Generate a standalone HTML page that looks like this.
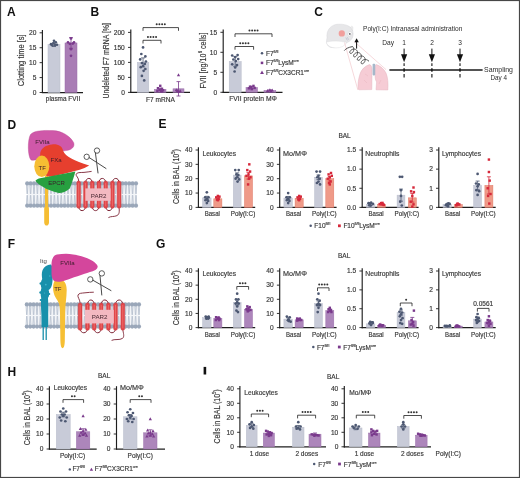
<!DOCTYPE html>
<html><head><meta charset="utf-8"><style>
html,body{margin:0;padding:0;background:#fff;width:520px;height:478px;overflow:hidden}
svg{display:block;will-change:transform}
text{font-family:"Liberation Sans",sans-serif}
</style></head><body>
<svg width="520" height="478" viewBox="0 0 520 478" font-family="Liberation Sans, sans-serif">
<rect x="0" y="0" width="520" height="478" fill="#fff"/>
<text x="7.00" y="15.70" font-size="12.0" text-anchor="start" font-weight="bold" fill="#111" stroke="#111" stroke-width="0" >A</text>
<line x1="42.40" y1="30.00" x2="42.40" y2="93.10" stroke="#1e1e1e" stroke-width="1.15"/>
<line x1="41.85" y1="92.50" x2="83.00" y2="92.50" stroke="#1e1e1e" stroke-width="1.25"/>
<line x1="39.60" y1="92.50" x2="42.40" y2="92.50" stroke="#1e1e1e" stroke-width="0.9"/>
<text x="36.40" y="94.80" font-size="6.6" text-anchor="end" font-weight="normal" fill="#383838" stroke="#383838" stroke-width="0.16" >0</text>
<line x1="39.60" y1="77.58" x2="42.40" y2="77.58" stroke="#1e1e1e" stroke-width="0.9"/>
<text x="36.40" y="79.88" font-size="6.6" text-anchor="end" font-weight="normal" fill="#383838" stroke="#383838" stroke-width="0.16" >5</text>
<line x1="39.60" y1="62.65" x2="42.40" y2="62.65" stroke="#1e1e1e" stroke-width="0.9"/>
<text x="36.40" y="64.95" font-size="6.6" text-anchor="end" font-weight="normal" fill="#383838" stroke="#383838" stroke-width="0.16" >10</text>
<line x1="39.60" y1="47.72" x2="42.40" y2="47.72" stroke="#1e1e1e" stroke-width="0.9"/>
<text x="36.40" y="50.02" font-size="6.6" text-anchor="end" font-weight="normal" fill="#383838" stroke="#383838" stroke-width="0.16" >15</text>
<line x1="39.60" y1="32.80" x2="42.40" y2="32.80" stroke="#1e1e1e" stroke-width="0.9"/>
<text x="36.40" y="35.10" font-size="6.6" text-anchor="end" font-weight="normal" fill="#383838" stroke="#383838" stroke-width="0.16" >20</text>
<rect x="48.00" y="44.74" width="12.00" height="47.76" fill="#c8cbd8" stroke="#b8bccb" stroke-width="0.5"/>
<line x1="54.00" y1="42.95" x2="54.00" y2="46.53" stroke="#4d5872" stroke-width="0.8"/>
<line x1="52.00" y1="42.95" x2="56.00" y2="42.95" stroke="#4d5872" stroke-width="0.8"/>
<line x1="52.00" y1="46.53" x2="56.00" y2="46.53" stroke="#4d5872" stroke-width="0.8"/>
<circle cx="51.00" cy="44.14" r="1.35" fill="#4d5872"/>
<circle cx="53.40" cy="43.25" r="1.35" fill="#4d5872"/>
<circle cx="55.80" cy="42.35" r="1.35" fill="#4d5872"/>
<circle cx="54.00" cy="40.86" r="1.35" fill="#4d5872"/>
<circle cx="57.00" cy="44.74" r="1.35" fill="#4d5872"/>
<circle cx="52.20" cy="45.34" r="1.35" fill="#4d5872"/>
<circle cx="55.20" cy="45.04" r="1.35" fill="#4d5872"/>
<rect x="65.00" y="42.95" width="12.00" height="49.55" fill="#a97db5" stroke="#9a6eaa" stroke-width="0.5"/>
<line x1="71.00" y1="37.58" x2="71.00" y2="48.32" stroke="#7a3a8c" stroke-width="0.8"/>
<line x1="69.00" y1="37.58" x2="73.00" y2="37.58" stroke="#7a3a8c" stroke-width="0.8"/>
<line x1="69.00" y1="48.32" x2="73.00" y2="48.32" stroke="#7a3a8c" stroke-width="0.8"/>
<circle cx="68.00" cy="42.35" r="1.35" fill="#7a3a8c"/>
<circle cx="71.00" cy="38.47" r="1.35" fill="#7a3a8c"/>
<circle cx="74.00" cy="42.35" r="1.35" fill="#7a3a8c"/>
<circle cx="69.80" cy="43.84" r="1.35" fill="#7a3a8c"/>
<circle cx="72.80" cy="43.55" r="1.35" fill="#7a3a8c"/>
<circle cx="71.00" cy="49.22" r="1.35" fill="#7a3a8c"/>
<circle cx="71.00" cy="55.78" r="1.35" fill="#7a3a8c"/>
<text x="45.80" y="101.20" font-size="6.5" text-anchor="start" font-weight="normal" fill="#383838" stroke="#383838" stroke-width="0.16"  textLength="34.4" lengthAdjust="spacingAndGlyphs">plasma FVII</text>
<text transform="translate(24.00,60.30) rotate(-90)" font-size="8.2" text-anchor="middle" fill="#383838" stroke="#383838" stroke-width="0.16" textLength="51.8" lengthAdjust="spacingAndGlyphs">Clotting time [s]</text>
<text x="90.60" y="16.00" font-size="12.0" text-anchor="start" font-weight="bold" fill="#111" stroke="#111" stroke-width="0" >B</text>
<line x1="130.80" y1="29.60" x2="130.80" y2="93.00" stroke="#1e1e1e" stroke-width="1.15"/>
<line x1="130.25" y1="92.40" x2="190.00" y2="92.40" stroke="#1e1e1e" stroke-width="1.25"/>
<line x1="128.00" y1="92.40" x2="130.80" y2="92.40" stroke="#1e1e1e" stroke-width="0.9"/>
<text x="124.80" y="94.70" font-size="6.6" text-anchor="end" font-weight="normal" fill="#383838" stroke="#383838" stroke-width="0.16" >0</text>
<line x1="128.00" y1="77.40" x2="130.80" y2="77.40" stroke="#1e1e1e" stroke-width="0.9"/>
<text x="124.80" y="79.70" font-size="6.6" text-anchor="end" font-weight="normal" fill="#383838" stroke="#383838" stroke-width="0.16" >50</text>
<line x1="128.00" y1="62.40" x2="130.80" y2="62.40" stroke="#1e1e1e" stroke-width="0.9"/>
<text x="124.80" y="64.70" font-size="6.6" text-anchor="end" font-weight="normal" fill="#383838" stroke="#383838" stroke-width="0.16" >100</text>
<line x1="128.00" y1="47.40" x2="130.80" y2="47.40" stroke="#1e1e1e" stroke-width="0.9"/>
<text x="124.80" y="49.70" font-size="6.6" text-anchor="end" font-weight="normal" fill="#383838" stroke="#383838" stroke-width="0.16" >150</text>
<line x1="128.00" y1="32.40" x2="130.80" y2="32.40" stroke="#1e1e1e" stroke-width="0.9"/>
<text x="124.80" y="34.70" font-size="6.6" text-anchor="end" font-weight="normal" fill="#383838" stroke="#383838" stroke-width="0.16" >200</text>
<rect x="137.30" y="62.40" width="11.50" height="30.00" fill="#c8cbd8" stroke="#b8bccb" stroke-width="0.5"/>
<line x1="143.05" y1="57.90" x2="143.05" y2="66.90" stroke="#4d5872" stroke-width="0.8"/>
<line x1="141.05" y1="57.90" x2="145.05" y2="57.90" stroke="#4d5872" stroke-width="0.8"/>
<line x1="141.05" y1="66.90" x2="145.05" y2="66.90" stroke="#4d5872" stroke-width="0.8"/>
<circle cx="143.05" cy="47.40" r="1.35" fill="#4d5872"/>
<circle cx="141.33" cy="54.00" r="1.35" fill="#4d5872"/>
<circle cx="145.35" cy="56.40" r="1.35" fill="#4d5872"/>
<circle cx="140.18" cy="59.40" r="1.35" fill="#4d5872"/>
<circle cx="145.93" cy="61.50" r="1.35" fill="#4d5872"/>
<circle cx="141.90" cy="63.00" r="1.35" fill="#4d5872"/>
<circle cx="144.78" cy="63.90" r="1.35" fill="#4d5872"/>
<circle cx="143.05" cy="66.00" r="1.35" fill="#4d5872"/>
<circle cx="140.75" cy="67.20" r="1.35" fill="#4d5872"/>
<circle cx="145.35" cy="69.00" r="1.35" fill="#4d5872"/>
<circle cx="143.62" cy="70.80" r="1.35" fill="#4d5872"/>
<circle cx="141.90" cy="75.90" r="1.35" fill="#4d5872"/>
<circle cx="144.20" cy="80.40" r="1.35" fill="#4d5872"/>
<rect x="154.50" y="89.40" width="11.50" height="3.00" fill="#ad86bb" stroke="#9a6eaa" stroke-width="0.5"/>
<line x1="160.25" y1="88.20" x2="160.25" y2="90.60" stroke="#7a3a8c" stroke-width="0.8"/>
<line x1="158.25" y1="88.20" x2="162.25" y2="88.20" stroke="#7a3a8c" stroke-width="0.8"/>
<line x1="158.25" y1="90.60" x2="162.25" y2="90.60" stroke="#7a3a8c" stroke-width="0.8"/>
<rect x="159.03" y="84.59" width="2.43" height="2.43" fill="#7a3a8c"/>
<rect x="156.73" y="86.98" width="2.43" height="2.43" fill="#7a3a8c"/>
<rect x="160.76" y="87.59" width="2.43" height="2.43" fill="#7a3a8c"/>
<rect x="158.46" y="88.48" width="2.43" height="2.43" fill="#7a3a8c"/>
<rect x="161.91" y="89.09" width="2.43" height="2.43" fill="#7a3a8c"/>
<rect x="156.16" y="89.69" width="2.43" height="2.43" fill="#7a3a8c"/>
<rect x="159.61" y="89.98" width="2.43" height="2.43" fill="#7a3a8c"/>
<rect x="160.76" y="90.28" width="2.43" height="2.43" fill="#7a3a8c"/>
<rect x="173.00" y="88.80" width="11.00" height="3.60" fill="#ad86bb" stroke="#9a6eaa" stroke-width="0.5"/>
<line x1="178.50" y1="81.60" x2="178.50" y2="96.00" stroke="#7a3a8c" stroke-width="0.8"/>
<line x1="176.50" y1="81.60" x2="180.50" y2="81.60" stroke="#7a3a8c" stroke-width="0.8"/>
<line x1="176.50" y1="96.00" x2="180.50" y2="96.00" stroke="#7a3a8c" stroke-width="0.8"/>
<path d="M178.50 73.30 L180.14 76.28 L176.86 76.28Z" fill="#7a3a8c"/>
<path d="M176.30 88.30 L177.94 91.28 L174.66 91.28Z" fill="#7a3a8c"/>
<path d="M180.15 89.20 L181.79 92.18 L178.51 92.18Z" fill="#7a3a8c"/>
<path d="M178.50 89.80 L180.14 92.78 L176.86 92.78Z" fill="#7a3a8c"/>
<path d="M177.40 88.90 L179.04 91.88 L175.76 91.88Z" fill="#7a3a8c"/>
<path d="M143.00 43.50 V40.30 H161.00 V43.50" fill="none" stroke="#1e1e1e" stroke-width="0.8"/>
<circle cx="147.95" cy="37.00" r="1.0" fill="#333"/>
<circle cx="150.65" cy="37.00" r="1.0" fill="#333"/>
<circle cx="153.35" cy="37.00" r="1.0" fill="#333"/>
<circle cx="156.05" cy="37.00" r="1.0" fill="#333"/>
<path d="M143.00 30.80 V27.60 H178.50 V30.80" fill="none" stroke="#1e1e1e" stroke-width="0.8"/>
<circle cx="156.70" cy="24.30" r="1.0" fill="#333"/>
<circle cx="159.40" cy="24.30" r="1.0" fill="#333"/>
<circle cx="162.10" cy="24.30" r="1.0" fill="#333"/>
<circle cx="164.80" cy="24.30" r="1.0" fill="#333"/>
<text x="146.00" y="101.50" font-size="6.5" text-anchor="start" font-weight="normal" fill="#383838" stroke="#383838" stroke-width="0.16"  textLength="28.8" lengthAdjust="spacingAndGlyphs">F7 mRNA</text>
<text transform="translate(109.20,60.80) rotate(-90)" font-size="8.2" text-anchor="middle" fill="#383838" stroke="#383838" stroke-width="0.16" textLength="75.5" lengthAdjust="spacingAndGlyphs">Undeleted F7 mRNA [%]</text>
<line x1="223.20" y1="29.50" x2="223.20" y2="92.90" stroke="#1e1e1e" stroke-width="1.15"/>
<line x1="222.65" y1="92.30" x2="282.50" y2="92.30" stroke="#1e1e1e" stroke-width="1.25"/>
<line x1="220.40" y1="92.30" x2="223.20" y2="92.30" stroke="#1e1e1e" stroke-width="0.9"/>
<text x="217.20" y="94.60" font-size="6.6" text-anchor="end" font-weight="normal" fill="#383838" stroke="#383838" stroke-width="0.16" >0</text>
<line x1="220.40" y1="72.30" x2="223.20" y2="72.30" stroke="#1e1e1e" stroke-width="0.9"/>
<text x="217.20" y="74.60" font-size="6.6" text-anchor="end" font-weight="normal" fill="#383838" stroke="#383838" stroke-width="0.16" >5</text>
<line x1="220.40" y1="52.30" x2="223.20" y2="52.30" stroke="#1e1e1e" stroke-width="0.9"/>
<text x="217.20" y="54.60" font-size="6.6" text-anchor="end" font-weight="normal" fill="#383838" stroke="#383838" stroke-width="0.16" >10</text>
<line x1="220.40" y1="32.30" x2="223.20" y2="32.30" stroke="#1e1e1e" stroke-width="0.9"/>
<text x="217.20" y="34.60" font-size="6.6" text-anchor="end" font-weight="normal" fill="#383838" stroke="#383838" stroke-width="0.16" >15</text>
<rect x="229.20" y="61.50" width="12.00" height="30.80" fill="#c8cbd8" stroke="#b8bccb" stroke-width="0.5"/>
<line x1="235.20" y1="56.70" x2="235.20" y2="66.30" stroke="#4d5872" stroke-width="0.8"/>
<line x1="233.20" y1="56.70" x2="237.20" y2="56.70" stroke="#4d5872" stroke-width="0.8"/>
<line x1="233.20" y1="66.30" x2="237.20" y2="66.30" stroke="#4d5872" stroke-width="0.8"/>
<circle cx="232.20" cy="55.50" r="1.35" fill="#4d5872"/>
<circle cx="237.60" cy="55.10" r="1.35" fill="#4d5872"/>
<circle cx="235.20" cy="57.10" r="1.35" fill="#4d5872"/>
<circle cx="233.40" cy="59.50" r="1.35" fill="#4d5872"/>
<circle cx="238.20" cy="59.10" r="1.35" fill="#4d5872"/>
<circle cx="235.80" cy="61.10" r="1.35" fill="#4d5872"/>
<circle cx="232.20" cy="64.30" r="1.35" fill="#4d5872"/>
<circle cx="237.00" cy="65.10" r="1.35" fill="#4d5872"/>
<circle cx="235.20" cy="67.50" r="1.35" fill="#4d5872"/>
<circle cx="234.60" cy="71.50" r="1.35" fill="#4d5872"/>
<rect x="246.00" y="87.50" width="11.50" height="4.80" fill="#ad86bb" stroke="#9a6eaa" stroke-width="0.5"/>
<line x1="251.75" y1="86.30" x2="251.75" y2="88.70" stroke="#7a3a8c" stroke-width="0.8"/>
<line x1="249.75" y1="86.30" x2="253.75" y2="86.30" stroke="#7a3a8c" stroke-width="0.8"/>
<line x1="249.75" y1="88.70" x2="253.75" y2="88.70" stroke="#7a3a8c" stroke-width="0.8"/>
<rect x="247.66" y="87.08" width="2.43" height="2.43" fill="#7a3a8c"/>
<rect x="249.96" y="85.88" width="2.43" height="2.43" fill="#7a3a8c"/>
<rect x="252.26" y="84.68" width="2.43" height="2.43" fill="#7a3a8c"/>
<rect x="253.41" y="86.68" width="2.43" height="2.43" fill="#7a3a8c"/>
<rect x="250.53" y="87.88" width="2.43" height="2.43" fill="#7a3a8c"/>
<rect x="248.81" y="85.48" width="2.43" height="2.43" fill="#7a3a8c"/>
<rect x="264.00" y="90.50" width="11.80" height="1.80" fill="#ad86bb" stroke="#9a6eaa" stroke-width="0.5"/>
<line x1="269.90" y1="89.90" x2="269.90" y2="91.10" stroke="#7a3a8c" stroke-width="0.8"/>
<line x1="267.90" y1="89.90" x2="271.90" y2="89.90" stroke="#7a3a8c" stroke-width="0.8"/>
<line x1="267.90" y1="91.10" x2="271.90" y2="91.10" stroke="#7a3a8c" stroke-width="0.8"/>
<path d="M267.54 89.00 L269.18 91.98 L265.90 91.98Z" fill="#7a3a8c"/>
<path d="M269.90 88.20 L271.54 91.18 L268.26 91.18Z" fill="#7a3a8c"/>
<path d="M272.26 88.60 L273.90 91.58 L270.62 91.58Z" fill="#7a3a8c"/>
<path d="M271.08 89.40 L272.72 92.38 L269.44 92.38Z" fill="#7a3a8c"/>
<path d="M235.00 49.70 V46.50 H253.60 V49.70" fill="none" stroke="#1e1e1e" stroke-width="0.8"/>
<circle cx="240.25" cy="43.20" r="1.0" fill="#333"/>
<circle cx="242.95" cy="43.20" r="1.0" fill="#333"/>
<circle cx="245.65" cy="43.20" r="1.0" fill="#333"/>
<circle cx="248.35" cy="43.20" r="1.0" fill="#333"/>
<path d="M235.00 37.00 V33.80 H272.00 V37.00" fill="none" stroke="#1e1e1e" stroke-width="0.8"/>
<circle cx="249.45" cy="30.50" r="1.0" fill="#333"/>
<circle cx="252.15" cy="30.50" r="1.0" fill="#333"/>
<circle cx="254.85" cy="30.50" r="1.0" fill="#333"/>
<circle cx="257.55" cy="30.50" r="1.0" fill="#333"/>
<text x="229.20" y="101.10" font-size="6.5" text-anchor="start" font-weight="normal" fill="#383838" stroke="#383838" stroke-width="0.16"  textLength="47.7" lengthAdjust="spacingAndGlyphs">FVII protein MΦ</text>
<text transform="translate(205.80,60.60) rotate(-90)" font-size="8.2" text-anchor="middle" fill="#383838" stroke="#383838" stroke-width="0.16" textLength="56" lengthAdjust="spacingAndGlyphs">FVII [ng/10<tspan baseline-shift="3.6" font-size="4.8">6</tspan> cells]</text>
<circle cx="262.00" cy="53.30" r="1.25" fill="#4d5872"/>
<text x="266.00" y="55.60" font-size="6.5" text-anchor="start" font-weight="normal" fill="#383838" stroke="#383838" stroke-width="0.16" >F7<tspan baseline-shift="3.0" font-size="3.7">fl/fl</tspan></text>
<rect x="260.74" y="61.64" width="2.52" height="2.52" fill="#7a3a8c"/>
<text x="266.00" y="65.10" font-size="6.5" text-anchor="start" font-weight="normal" fill="#383838" stroke="#383838" stroke-width="0.16" >F7<tspan baseline-shift="3.0" font-size="3.7">fl/fl</tspan>LysM<tspan baseline-shift="3.0" font-size="3.7">cre</tspan></text>
<path d="M262.00 70.58 L263.95 74.11 L260.05 74.11Z" fill="#7a3a8c"/>
<text x="266.00" y="74.60" font-size="6.5" text-anchor="start" font-weight="normal" fill="#383838" stroke="#383838" stroke-width="0.16" >F7<tspan baseline-shift="3.0" font-size="3.7">fl/fl</tspan>CX3CR1<tspan baseline-shift="3.0" font-size="3.7">cre</tspan></text>
<text x="314.20" y="16.20" font-size="12.0" text-anchor="start" font-weight="bold" fill="#111" stroke="#111" stroke-width="0" >C</text>
<text x="158.40" y="128.00" font-size="12.0" text-anchor="start" font-weight="bold" fill="#111" stroke="#111" stroke-width="0" >E</text>
<text x="338.40" y="138.30" font-size="6.5" text-anchor="start" font-weight="normal" fill="#383838" stroke="#383838" stroke-width="0.16" >BAL</text>
<text transform="translate(179.40,176.60) rotate(-90)" font-size="8.2" text-anchor="middle" fill="#383838" stroke="#383838" stroke-width="0.16" textLength="55" lengthAdjust="spacingAndGlyphs">Cells in BAL (10<tspan baseline-shift="3.6" font-size="4.8">5</tspan>)</text>
<line x1="198.40" y1="147.20" x2="198.40" y2="208.00" stroke="#1e1e1e" stroke-width="1.15"/>
<line x1="197.85" y1="207.40" x2="255.20" y2="207.40" stroke="#1e1e1e" stroke-width="1.25"/>
<line x1="195.60" y1="207.40" x2="198.40" y2="207.40" stroke="#1e1e1e" stroke-width="0.9"/>
<text x="192.40" y="209.70" font-size="6.6" text-anchor="end" font-weight="normal" fill="#383838" stroke="#383838" stroke-width="0.16" >0</text>
<line x1="195.60" y1="193.05" x2="198.40" y2="193.05" stroke="#1e1e1e" stroke-width="0.9"/>
<text x="192.40" y="195.35" font-size="6.6" text-anchor="end" font-weight="normal" fill="#383838" stroke="#383838" stroke-width="0.16" >10</text>
<line x1="195.60" y1="178.70" x2="198.40" y2="178.70" stroke="#1e1e1e" stroke-width="0.9"/>
<text x="192.40" y="181.00" font-size="6.6" text-anchor="end" font-weight="normal" fill="#383838" stroke="#383838" stroke-width="0.16" >20</text>
<line x1="195.60" y1="164.35" x2="198.40" y2="164.35" stroke="#1e1e1e" stroke-width="0.9"/>
<text x="192.40" y="166.65" font-size="6.6" text-anchor="end" font-weight="normal" fill="#383838" stroke="#383838" stroke-width="0.16" >30</text>
<line x1="195.60" y1="150.00" x2="198.40" y2="150.00" stroke="#1e1e1e" stroke-width="0.9"/>
<text x="192.40" y="152.30" font-size="6.6" text-anchor="end" font-weight="normal" fill="#383838" stroke="#383838" stroke-width="0.16" >40</text>
<rect x="202.60" y="197.93" width="8.50" height="9.47" fill="#c8cbd8" stroke="#b8bccb" stroke-width="0.5"/>
<line x1="206.85" y1="196.31" x2="206.85" y2="199.54" stroke="#4d5872" stroke-width="0.8"/>
<line x1="204.85" y1="196.31" x2="208.85" y2="196.31" stroke="#4d5872" stroke-width="0.8"/>
<line x1="204.85" y1="199.54" x2="208.85" y2="199.54" stroke="#4d5872" stroke-width="0.8"/>
<circle cx="206.85" cy="192.33" r="1.35" fill="#4d5872"/>
<circle cx="205.15" cy="197.36" r="1.35" fill="#4d5872"/>
<circle cx="208.55" cy="197.36" r="1.35" fill="#4d5872"/>
<circle cx="206.85" cy="198.79" r="1.35" fill="#4d5872"/>
<circle cx="205.57" cy="200.22" r="1.35" fill="#4d5872"/>
<circle cx="208.12" cy="200.94" r="1.35" fill="#4d5872"/>
<circle cx="206.85" cy="203.09" r="1.35" fill="#4d5872"/>
<rect x="213.80" y="198.79" width="8.10" height="8.61" fill="#ef9a88" stroke="#e07866" stroke-width="0.5"/>
<line x1="217.85" y1="197.63" x2="217.85" y2="199.95" stroke="#d6283a" stroke-width="0.8"/>
<line x1="215.85" y1="197.63" x2="219.85" y2="197.63" stroke="#d6283a" stroke-width="0.8"/>
<line x1="215.85" y1="199.95" x2="219.85" y2="199.95" stroke="#d6283a" stroke-width="0.8"/>
<rect x="216.63" y="194.71" width="2.43" height="2.43" fill="#d6283a"/>
<rect x="215.01" y="196.14" width="2.43" height="2.43" fill="#d6283a"/>
<rect x="218.25" y="195.42" width="2.43" height="2.43" fill="#d6283a"/>
<rect x="217.44" y="197.58" width="2.43" height="2.43" fill="#d6283a"/>
<rect x="215.82" y="198.29" width="2.43" height="2.43" fill="#d6283a"/>
<rect x="216.63" y="199.01" width="2.43" height="2.43" fill="#d6283a"/>
<rect x="233.30" y="175.11" width="7.80" height="32.29" fill="#c8cbd8" stroke="#b8bccb" stroke-width="0.5"/>
<line x1="237.20" y1="172.85" x2="237.20" y2="177.37" stroke="#4d5872" stroke-width="0.8"/>
<line x1="235.20" y1="172.85" x2="239.20" y2="172.85" stroke="#4d5872" stroke-width="0.8"/>
<line x1="235.20" y1="177.37" x2="239.20" y2="177.37" stroke="#4d5872" stroke-width="0.8"/>
<circle cx="235.25" cy="170.09" r="1.35" fill="#4d5872"/>
<circle cx="238.76" cy="170.09" r="1.35" fill="#4d5872"/>
<circle cx="236.42" cy="174.40" r="1.35" fill="#4d5872"/>
<circle cx="238.37" cy="175.11" r="1.35" fill="#4d5872"/>
<circle cx="237.20" cy="177.27" r="1.35" fill="#4d5872"/>
<circle cx="235.64" cy="178.70" r="1.35" fill="#4d5872"/>
<circle cx="239.15" cy="179.42" r="1.35" fill="#4d5872"/>
<circle cx="237.59" cy="181.57" r="1.35" fill="#4d5872"/>
<rect x="244.50" y="175.83" width="8.00" height="31.57" fill="#ef9a88" stroke="#e07866" stroke-width="0.5"/>
<line x1="248.50" y1="172.60" x2="248.50" y2="179.06" stroke="#d6283a" stroke-width="0.8"/>
<line x1="246.50" y1="172.60" x2="250.50" y2="172.60" stroke="#d6283a" stroke-width="0.8"/>
<line x1="246.50" y1="179.06" x2="250.50" y2="179.06" stroke="#d6283a" stroke-width="0.8"/>
<rect x="246.09" y="168.88" width="2.43" height="2.43" fill="#d6283a"/>
<rect x="248.09" y="163.13" width="2.43" height="2.43" fill="#d6283a"/>
<rect x="248.88" y="170.31" width="2.43" height="2.43" fill="#d6283a"/>
<rect x="247.28" y="173.18" width="2.43" height="2.43" fill="#d6283a"/>
<rect x="245.28" y="174.62" width="2.43" height="2.43" fill="#d6283a"/>
<rect x="249.28" y="176.05" width="2.43" height="2.43" fill="#d6283a"/>
<rect x="247.69" y="177.48" width="2.43" height="2.43" fill="#d6283a"/>
<rect x="246.88" y="183.22" width="2.43" height="2.43" fill="#d6283a"/>
<text x="202.50" y="155.60" font-size="6.5" text-anchor="start" font-weight="normal" fill="#383838" stroke="#383838" stroke-width="0.16"  textLength="33.5" lengthAdjust="spacingAndGlyphs">Leukocytes</text>
<text x="204.70" y="216.30" font-size="6.5" text-anchor="start" font-weight="normal" fill="#383838" stroke="#383838" stroke-width="0.16"  textLength="15.2" lengthAdjust="spacingAndGlyphs">Basal</text>
<text x="230.70" y="216.30" font-size="6.5" text-anchor="start" font-weight="normal" fill="#383838" stroke="#383838" stroke-width="0.16"  textLength="24.6" lengthAdjust="spacingAndGlyphs">Poly(I:C)</text>
<line x1="279.70" y1="147.20" x2="279.70" y2="208.00" stroke="#1e1e1e" stroke-width="1.15"/>
<line x1="279.15" y1="207.40" x2="336.60" y2="207.40" stroke="#1e1e1e" stroke-width="1.25"/>
<line x1="276.90" y1="207.40" x2="279.70" y2="207.40" stroke="#1e1e1e" stroke-width="0.9"/>
<text x="273.70" y="209.70" font-size="6.6" text-anchor="end" font-weight="normal" fill="#383838" stroke="#383838" stroke-width="0.16" >0</text>
<line x1="276.90" y1="193.05" x2="279.70" y2="193.05" stroke="#1e1e1e" stroke-width="0.9"/>
<text x="273.70" y="195.35" font-size="6.6" text-anchor="end" font-weight="normal" fill="#383838" stroke="#383838" stroke-width="0.16" >10</text>
<line x1="276.90" y1="178.70" x2="279.70" y2="178.70" stroke="#1e1e1e" stroke-width="0.9"/>
<text x="273.70" y="181.00" font-size="6.6" text-anchor="end" font-weight="normal" fill="#383838" stroke="#383838" stroke-width="0.16" >20</text>
<line x1="276.90" y1="164.35" x2="279.70" y2="164.35" stroke="#1e1e1e" stroke-width="0.9"/>
<text x="273.70" y="166.65" font-size="6.6" text-anchor="end" font-weight="normal" fill="#383838" stroke="#383838" stroke-width="0.16" >30</text>
<line x1="276.90" y1="150.00" x2="279.70" y2="150.00" stroke="#1e1e1e" stroke-width="0.9"/>
<text x="273.70" y="152.30" font-size="6.6" text-anchor="end" font-weight="normal" fill="#383838" stroke="#383838" stroke-width="0.16" >40</text>
<rect x="283.90" y="198.07" width="8.50" height="9.33" fill="#c8cbd8" stroke="#b8bccb" stroke-width="0.5"/>
<line x1="288.15" y1="196.46" x2="288.15" y2="199.69" stroke="#4d5872" stroke-width="0.8"/>
<line x1="286.15" y1="196.46" x2="290.15" y2="196.46" stroke="#4d5872" stroke-width="0.8"/>
<line x1="286.15" y1="199.69" x2="290.15" y2="199.69" stroke="#4d5872" stroke-width="0.8"/>
<circle cx="288.15" cy="193.05" r="1.35" fill="#4d5872"/>
<circle cx="286.45" cy="197.36" r="1.35" fill="#4d5872"/>
<circle cx="289.85" cy="197.36" r="1.35" fill="#4d5872"/>
<circle cx="288.15" cy="198.79" r="1.35" fill="#4d5872"/>
<circle cx="286.88" cy="200.22" r="1.35" fill="#4d5872"/>
<circle cx="289.42" cy="200.94" r="1.35" fill="#4d5872"/>
<circle cx="288.15" cy="203.09" r="1.35" fill="#4d5872"/>
<rect x="295.10" y="198.36" width="8.10" height="9.04" fill="#ef9a88" stroke="#e07866" stroke-width="0.5"/>
<line x1="299.15" y1="197.39" x2="299.15" y2="199.33" stroke="#d6283a" stroke-width="0.8"/>
<line x1="297.15" y1="197.39" x2="301.15" y2="197.39" stroke="#d6283a" stroke-width="0.8"/>
<line x1="297.15" y1="199.33" x2="301.15" y2="199.33" stroke="#d6283a" stroke-width="0.8"/>
<rect x="297.94" y="194.71" width="2.43" height="2.43" fill="#d6283a"/>
<rect x="296.31" y="196.14" width="2.43" height="2.43" fill="#d6283a"/>
<rect x="299.56" y="195.42" width="2.43" height="2.43" fill="#d6283a"/>
<rect x="298.75" y="197.58" width="2.43" height="2.43" fill="#d6283a"/>
<rect x="297.12" y="198.29" width="2.43" height="2.43" fill="#d6283a"/>
<rect x="297.94" y="199.01" width="2.43" height="2.43" fill="#d6283a"/>
<rect x="314.60" y="177.27" width="7.80" height="30.13" fill="#c8cbd8" stroke="#b8bccb" stroke-width="0.5"/>
<line x1="318.50" y1="175.00" x2="318.50" y2="179.53" stroke="#4d5872" stroke-width="0.8"/>
<line x1="316.50" y1="175.00" x2="320.50" y2="175.00" stroke="#4d5872" stroke-width="0.8"/>
<line x1="316.50" y1="179.53" x2="320.50" y2="179.53" stroke="#4d5872" stroke-width="0.8"/>
<circle cx="316.55" cy="171.53" r="1.35" fill="#4d5872"/>
<circle cx="320.06" cy="171.53" r="1.35" fill="#4d5872"/>
<circle cx="318.50" cy="175.83" r="1.35" fill="#4d5872"/>
<circle cx="317.33" cy="177.27" r="1.35" fill="#4d5872"/>
<circle cx="319.67" cy="178.70" r="1.35" fill="#4d5872"/>
<circle cx="318.50" cy="181.57" r="1.35" fill="#4d5872"/>
<circle cx="316.94" cy="183.00" r="1.35" fill="#4d5872"/>
<circle cx="320.06" cy="184.44" r="1.35" fill="#4d5872"/>
<rect x="325.80" y="178.70" width="8.00" height="28.70" fill="#ef9a88" stroke="#e07866" stroke-width="0.5"/>
<line x1="329.80" y1="176.44" x2="329.80" y2="180.96" stroke="#d6283a" stroke-width="0.8"/>
<line x1="327.80" y1="176.44" x2="331.80" y2="176.44" stroke="#d6283a" stroke-width="0.8"/>
<line x1="327.80" y1="180.96" x2="331.80" y2="180.96" stroke="#d6283a" stroke-width="0.8"/>
<rect x="329.78" y="171.75" width="2.43" height="2.43" fill="#d6283a"/>
<rect x="327.38" y="173.18" width="2.43" height="2.43" fill="#d6283a"/>
<rect x="330.58" y="174.62" width="2.43" height="2.43" fill="#d6283a"/>
<rect x="328.58" y="176.05" width="2.43" height="2.43" fill="#d6283a"/>
<rect x="326.58" y="177.48" width="2.43" height="2.43" fill="#d6283a"/>
<rect x="329.38" y="180.35" width="2.43" height="2.43" fill="#d6283a"/>
<rect x="327.78" y="181.79" width="2.43" height="2.43" fill="#d6283a"/>
<rect x="328.58" y="183.22" width="2.43" height="2.43" fill="#d6283a"/>
<text x="283.10" y="155.60" font-size="6.5" text-anchor="start" font-weight="normal" fill="#383838" stroke="#383838" stroke-width="0.16"  textLength="23.8" lengthAdjust="spacingAndGlyphs">Mo/MΦ</text>
<text x="286.00" y="216.30" font-size="6.5" text-anchor="start" font-weight="normal" fill="#383838" stroke="#383838" stroke-width="0.16"  textLength="15.2" lengthAdjust="spacingAndGlyphs">Basal</text>
<text x="312.00" y="216.30" font-size="6.5" text-anchor="start" font-weight="normal" fill="#383838" stroke="#383838" stroke-width="0.16"  textLength="24.6" lengthAdjust="spacingAndGlyphs">Poly(I:C)</text>
<line x1="362.20" y1="147.20" x2="362.20" y2="208.00" stroke="#1e1e1e" stroke-width="1.15"/>
<line x1="361.65" y1="207.40" x2="418.60" y2="207.40" stroke="#1e1e1e" stroke-width="1.25"/>
<line x1="359.40" y1="207.40" x2="362.20" y2="207.40" stroke="#1e1e1e" stroke-width="0.9"/>
<text x="356.20" y="209.70" font-size="6.6" text-anchor="end" font-weight="normal" fill="#383838" stroke="#383838" stroke-width="0.16" >0.0</text>
<line x1="359.40" y1="188.27" x2="362.20" y2="188.27" stroke="#1e1e1e" stroke-width="0.9"/>
<text x="356.20" y="190.57" font-size="6.6" text-anchor="end" font-weight="normal" fill="#383838" stroke="#383838" stroke-width="0.16" >0.5</text>
<line x1="359.40" y1="169.13" x2="362.20" y2="169.13" stroke="#1e1e1e" stroke-width="0.9"/>
<text x="356.20" y="171.43" font-size="6.6" text-anchor="end" font-weight="normal" fill="#383838" stroke="#383838" stroke-width="0.16" >1.0</text>
<line x1="359.40" y1="150.00" x2="362.20" y2="150.00" stroke="#1e1e1e" stroke-width="0.9"/>
<text x="356.20" y="152.30" font-size="6.6" text-anchor="end" font-weight="normal" fill="#383838" stroke="#383838" stroke-width="0.16" >1.5</text>
<rect x="366.40" y="204.34" width="8.50" height="3.06" fill="#c8cbd8" stroke="#b8bccb" stroke-width="0.5"/>
<line x1="370.65" y1="203.48" x2="370.65" y2="205.20" stroke="#4d5872" stroke-width="0.8"/>
<line x1="368.65" y1="203.48" x2="372.65" y2="203.48" stroke="#4d5872" stroke-width="0.8"/>
<line x1="368.65" y1="205.20" x2="372.65" y2="205.20" stroke="#4d5872" stroke-width="0.8"/>
<circle cx="370.73" cy="205.53" r="1.35" fill="#4d5872"/>
<circle cx="372.96" cy="203.82" r="1.35" fill="#4d5872"/>
<circle cx="371.11" cy="202.65" r="1.35" fill="#4d5872"/>
<circle cx="368.57" cy="203.22" r="1.35" fill="#4d5872"/>
<circle cx="369.24" cy="205.29" r="1.35" fill="#4d5872"/>
<circle cx="369.74" cy="203.42" r="1.35" fill="#4d5872"/>
<rect x="377.60" y="204.34" width="8.10" height="3.06" fill="#ef9a88" stroke="#e07866" stroke-width="0.5"/>
<line x1="381.65" y1="203.65" x2="381.65" y2="205.03" stroke="#d6283a" stroke-width="0.8"/>
<line x1="379.65" y1="203.65" x2="383.65" y2="203.65" stroke="#d6283a" stroke-width="0.8"/>
<line x1="379.65" y1="205.03" x2="383.65" y2="205.03" stroke="#d6283a" stroke-width="0.8"/>
<rect x="378.43" y="202.87" width="2.43" height="2.43" fill="#d6283a"/>
<rect x="379.94" y="201.85" width="2.43" height="2.43" fill="#d6283a"/>
<rect x="380.99" y="203.05" width="2.43" height="2.43" fill="#d6283a"/>
<rect x="382.56" y="203.78" width="2.43" height="2.43" fill="#d6283a"/>
<rect x="382.13" y="203.36" width="2.43" height="2.43" fill="#d6283a"/>
<rect x="381.29" y="201.69" width="2.43" height="2.43" fill="#d6283a"/>
<rect x="397.10" y="195.15" width="7.80" height="12.25" fill="#c8cbd8" stroke="#b8bccb" stroke-width="0.5"/>
<line x1="401.00" y1="189.13" x2="401.00" y2="201.18" stroke="#4d5872" stroke-width="0.8"/>
<line x1="399.00" y1="189.13" x2="403.00" y2="189.13" stroke="#4d5872" stroke-width="0.8"/>
<line x1="399.00" y1="201.18" x2="403.00" y2="201.18" stroke="#4d5872" stroke-width="0.8"/>
<circle cx="399.83" cy="176.79" r="1.35" fill="#4d5872"/>
<circle cx="402.17" cy="176.79" r="1.35" fill="#4d5872"/>
<circle cx="401.00" cy="190.18" r="1.35" fill="#4d5872"/>
<circle cx="401.00" cy="195.92" r="1.35" fill="#4d5872"/>
<circle cx="400.22" cy="201.66" r="1.35" fill="#4d5872"/>
<circle cx="401.78" cy="205.49" r="1.35" fill="#4d5872"/>
<rect x="408.30" y="197.83" width="8.00" height="9.57" fill="#ef9a88" stroke="#e07866" stroke-width="0.5"/>
<line x1="412.30" y1="193.53" x2="412.30" y2="202.14" stroke="#d6283a" stroke-width="0.8"/>
<line x1="410.30" y1="193.53" x2="414.30" y2="193.53" stroke="#d6283a" stroke-width="0.8"/>
<line x1="410.30" y1="202.14" x2="414.30" y2="202.14" stroke="#d6283a" stroke-width="0.8"/>
<rect x="412.28" y="186.29" width="2.43" height="2.43" fill="#d6283a"/>
<rect x="409.88" y="190.11" width="2.43" height="2.43" fill="#d6283a"/>
<rect x="412.69" y="190.88" width="2.43" height="2.43" fill="#d6283a"/>
<rect x="411.08" y="194.71" width="2.43" height="2.43" fill="#d6283a"/>
<rect x="409.48" y="200.44" width="2.43" height="2.43" fill="#d6283a"/>
<rect x="412.28" y="203.12" width="2.43" height="2.43" fill="#d6283a"/>
<rect x="411.08" y="205.42" width="2.43" height="2.43" fill="#d6283a"/>
<text x="365.30" y="155.60" font-size="6.5" text-anchor="start" font-weight="normal" fill="#383838" stroke="#383838" stroke-width="0.16"  textLength="34.2" lengthAdjust="spacingAndGlyphs">Neutrophils</text>
<text x="368.50" y="216.30" font-size="6.5" text-anchor="start" font-weight="normal" fill="#383838" stroke="#383838" stroke-width="0.16"  textLength="15.2" lengthAdjust="spacingAndGlyphs">Basal</text>
<text x="394.50" y="216.30" font-size="6.5" text-anchor="start" font-weight="normal" fill="#383838" stroke="#383838" stroke-width="0.16"  textLength="24.6" lengthAdjust="spacingAndGlyphs">Poly(I:C)</text>
<line x1="438.80" y1="147.20" x2="438.80" y2="208.00" stroke="#1e1e1e" stroke-width="1.15"/>
<line x1="438.25" y1="207.40" x2="495.70" y2="207.40" stroke="#1e1e1e" stroke-width="1.25"/>
<line x1="436.00" y1="207.40" x2="438.80" y2="207.40" stroke="#1e1e1e" stroke-width="0.9"/>
<text x="432.80" y="209.70" font-size="6.6" text-anchor="end" font-weight="normal" fill="#383838" stroke="#383838" stroke-width="0.16" >0</text>
<line x1="436.00" y1="188.27" x2="438.80" y2="188.27" stroke="#1e1e1e" stroke-width="0.9"/>
<text x="432.80" y="190.57" font-size="6.6" text-anchor="end" font-weight="normal" fill="#383838" stroke="#383838" stroke-width="0.16" >1</text>
<line x1="436.00" y1="169.13" x2="438.80" y2="169.13" stroke="#1e1e1e" stroke-width="0.9"/>
<text x="432.80" y="171.43" font-size="6.6" text-anchor="end" font-weight="normal" fill="#383838" stroke="#383838" stroke-width="0.16" >2</text>
<line x1="436.00" y1="150.00" x2="438.80" y2="150.00" stroke="#1e1e1e" stroke-width="0.9"/>
<text x="432.80" y="152.30" font-size="6.6" text-anchor="end" font-weight="normal" fill="#383838" stroke="#383838" stroke-width="0.16" >3</text>
<rect x="443.00" y="204.53" width="8.50" height="2.87" fill="#c8cbd8" stroke="#b8bccb" stroke-width="0.5"/>
<line x1="447.25" y1="203.67" x2="447.25" y2="205.39" stroke="#4d5872" stroke-width="0.8"/>
<line x1="445.25" y1="203.67" x2="449.25" y2="203.67" stroke="#4d5872" stroke-width="0.8"/>
<line x1="445.25" y1="205.39" x2="449.25" y2="205.39" stroke="#4d5872" stroke-width="0.8"/>
<circle cx="447.35" cy="205.40" r="1.35" fill="#4d5872"/>
<circle cx="448.48" cy="203.39" r="1.35" fill="#4d5872"/>
<circle cx="448.00" cy="206.36" r="1.35" fill="#4d5872"/>
<circle cx="445.92" cy="205.15" r="1.35" fill="#4d5872"/>
<circle cx="449.68" cy="203.92" r="1.35" fill="#4d5872"/>
<circle cx="447.40" cy="203.88" r="1.35" fill="#4d5872"/>
<rect x="454.20" y="204.53" width="8.10" height="2.87" fill="#ef9a88" stroke="#e07866" stroke-width="0.5"/>
<line x1="458.25" y1="204.01" x2="458.25" y2="205.05" stroke="#d6283a" stroke-width="0.8"/>
<line x1="456.25" y1="204.01" x2="460.25" y2="204.01" stroke="#d6283a" stroke-width="0.8"/>
<line x1="456.25" y1="205.05" x2="460.25" y2="205.05" stroke="#d6283a" stroke-width="0.8"/>
<rect x="456.14" y="202.70" width="2.43" height="2.43" fill="#d6283a"/>
<rect x="455.03" y="203.80" width="2.43" height="2.43" fill="#d6283a"/>
<rect x="456.50" y="202.41" width="2.43" height="2.43" fill="#d6283a"/>
<rect x="456.30" y="203.10" width="2.43" height="2.43" fill="#d6283a"/>
<rect x="455.09" y="204.07" width="2.43" height="2.43" fill="#d6283a"/>
<rect x="458.00" y="203.19" width="2.43" height="2.43" fill="#d6283a"/>
<rect x="473.70" y="185.40" width="7.80" height="22.00" fill="#c8cbd8" stroke="#b8bccb" stroke-width="0.5"/>
<line x1="477.60" y1="181.09" x2="477.60" y2="189.70" stroke="#4d5872" stroke-width="0.8"/>
<line x1="475.60" y1="181.09" x2="479.60" y2="181.09" stroke="#4d5872" stroke-width="0.8"/>
<line x1="475.60" y1="189.70" x2="479.60" y2="189.70" stroke="#4d5872" stroke-width="0.8"/>
<circle cx="477.60" cy="173.92" r="1.35" fill="#4d5872"/>
<circle cx="476.04" cy="183.48" r="1.35" fill="#4d5872"/>
<circle cx="478.77" cy="184.44" r="1.35" fill="#4d5872"/>
<circle cx="477.60" cy="186.35" r="1.35" fill="#4d5872"/>
<circle cx="476.43" cy="190.18" r="1.35" fill="#4d5872"/>
<circle cx="479.16" cy="191.14" r="1.35" fill="#4d5872"/>
<circle cx="477.60" cy="194.96" r="1.35" fill="#4d5872"/>
<rect x="484.90" y="185.40" width="8.00" height="22.00" fill="#ef9a88" stroke="#e07866" stroke-width="0.5"/>
<line x1="488.90" y1="176.79" x2="488.90" y2="194.01" stroke="#d6283a" stroke-width="0.8"/>
<line x1="486.90" y1="176.79" x2="490.90" y2="176.79" stroke="#d6283a" stroke-width="0.8"/>
<line x1="486.90" y1="194.01" x2="490.90" y2="194.01" stroke="#d6283a" stroke-width="0.8"/>
<rect x="487.69" y="158.35" width="2.43" height="2.43" fill="#d6283a"/>
<rect x="487.69" y="170.79" width="2.43" height="2.43" fill="#d6283a"/>
<rect x="488.49" y="179.40" width="2.43" height="2.43" fill="#d6283a"/>
<rect x="486.49" y="187.05" width="2.43" height="2.43" fill="#d6283a"/>
<rect x="489.29" y="192.79" width="2.43" height="2.43" fill="#d6283a"/>
<rect x="486.88" y="194.71" width="2.43" height="2.43" fill="#d6283a"/>
<rect x="488.08" y="202.36" width="2.43" height="2.43" fill="#d6283a"/>
<text x="442.00" y="155.60" font-size="6.5" text-anchor="start" font-weight="normal" fill="#383838" stroke="#383838" stroke-width="0.16"  textLength="39.0" lengthAdjust="spacingAndGlyphs">Lymphocytes</text>
<text x="445.10" y="216.30" font-size="6.5" text-anchor="start" font-weight="normal" fill="#383838" stroke="#383838" stroke-width="0.16"  textLength="15.2" lengthAdjust="spacingAndGlyphs">Basal</text>
<text x="471.10" y="216.30" font-size="6.5" text-anchor="start" font-weight="normal" fill="#383838" stroke="#383838" stroke-width="0.16"  textLength="24.6" lengthAdjust="spacingAndGlyphs">Poly(I:C)</text>
<circle cx="310.70" cy="225.80" r="1.25" fill="#4d5872"/>
<text x="314.30" y="228.40" font-size="6.5" text-anchor="start" font-weight="normal" fill="#383838" stroke="#383838" stroke-width="0.16" >F10<tspan baseline-shift="3.0" font-size="3.7">fl/fl</tspan></text>
<rect x="338.00" y="224.41" width="2.79" height="2.79" fill="#d6283a"/>
<text x="343.40" y="228.40" font-size="6.5" text-anchor="start" font-weight="normal" fill="#383838" stroke="#383838" stroke-width="0.16" >F10<tspan baseline-shift="3.0" font-size="3.7">fl/fl</tspan>LysM<tspan baseline-shift="3.0" font-size="3.7">cre</tspan></text>
<text x="156.00" y="248.20" font-size="12.0" text-anchor="start" font-weight="bold" fill="#111" stroke="#111" stroke-width="0" >G</text>
<text x="338.00" y="258.30" font-size="6.5" text-anchor="start" font-weight="normal" fill="#383838" stroke="#383838" stroke-width="0.16" >BAL</text>
<text transform="translate(179.40,297.80) rotate(-90)" font-size="8.2" text-anchor="middle" fill="#383838" stroke="#383838" stroke-width="0.16" textLength="55" lengthAdjust="spacingAndGlyphs">Cells in BAL (10<tspan baseline-shift="3.6" font-size="4.8">5</tspan>)</text>
<line x1="198.40" y1="268.20" x2="198.40" y2="328.20" stroke="#1e1e1e" stroke-width="1.15"/>
<line x1="197.85" y1="327.60" x2="255.20" y2="327.60" stroke="#1e1e1e" stroke-width="1.25"/>
<line x1="195.60" y1="327.60" x2="198.40" y2="327.60" stroke="#1e1e1e" stroke-width="0.9"/>
<text x="192.40" y="329.90" font-size="6.6" text-anchor="end" font-weight="normal" fill="#383838" stroke="#383838" stroke-width="0.16" >0</text>
<line x1="195.60" y1="313.45" x2="198.40" y2="313.45" stroke="#1e1e1e" stroke-width="0.9"/>
<text x="192.40" y="315.75" font-size="6.6" text-anchor="end" font-weight="normal" fill="#383838" stroke="#383838" stroke-width="0.16" >10</text>
<line x1="195.60" y1="299.30" x2="198.40" y2="299.30" stroke="#1e1e1e" stroke-width="0.9"/>
<text x="192.40" y="301.60" font-size="6.6" text-anchor="end" font-weight="normal" fill="#383838" stroke="#383838" stroke-width="0.16" >20</text>
<line x1="195.60" y1="285.15" x2="198.40" y2="285.15" stroke="#1e1e1e" stroke-width="0.9"/>
<text x="192.40" y="287.45" font-size="6.6" text-anchor="end" font-weight="normal" fill="#383838" stroke="#383838" stroke-width="0.16" >30</text>
<line x1="195.60" y1="271.00" x2="198.40" y2="271.00" stroke="#1e1e1e" stroke-width="0.9"/>
<text x="192.40" y="273.30" font-size="6.6" text-anchor="end" font-weight="normal" fill="#383838" stroke="#383838" stroke-width="0.16" >40</text>
<rect x="202.60" y="317.69" width="8.50" height="9.91" fill="#c8cbd8" stroke="#b8bccb" stroke-width="0.5"/>
<line x1="206.85" y1="316.74" x2="206.85" y2="318.65" stroke="#4d5872" stroke-width="0.8"/>
<line x1="204.85" y1="316.74" x2="208.85" y2="316.74" stroke="#4d5872" stroke-width="0.8"/>
<line x1="204.85" y1="318.65" x2="208.85" y2="318.65" stroke="#4d5872" stroke-width="0.8"/>
<circle cx="208.61" cy="316.60" r="1.35" fill="#4d5872"/>
<circle cx="206.44" cy="318.72" r="1.35" fill="#4d5872"/>
<circle cx="206.91" cy="318.10" r="1.35" fill="#4d5872"/>
<circle cx="208.30" cy="318.53" r="1.35" fill="#4d5872"/>
<circle cx="206.73" cy="317.34" r="1.35" fill="#4d5872"/>
<circle cx="208.93" cy="317.68" r="1.35" fill="#4d5872"/>
<circle cx="205.74" cy="316.61" r="1.35" fill="#4d5872"/>
<rect x="213.80" y="318.40" width="8.10" height="9.20" fill="#ad86bb" stroke="#9a6eaa" stroke-width="0.5"/>
<line x1="217.85" y1="317.64" x2="217.85" y2="319.17" stroke="#7a3a8c" stroke-width="0.8"/>
<line x1="215.85" y1="317.64" x2="219.85" y2="317.64" stroke="#7a3a8c" stroke-width="0.8"/>
<line x1="215.85" y1="319.17" x2="219.85" y2="319.17" stroke="#7a3a8c" stroke-width="0.8"/>
<rect x="214.86" y="316.01" width="2.43" height="2.43" fill="#7a3a8c"/>
<rect x="217.92" y="318.02" width="2.43" height="2.43" fill="#7a3a8c"/>
<rect x="216.61" y="317.36" width="2.43" height="2.43" fill="#7a3a8c"/>
<rect x="217.37" y="316.21" width="2.43" height="2.43" fill="#7a3a8c"/>
<rect x="214.66" y="318.79" width="2.43" height="2.43" fill="#7a3a8c"/>
<rect x="218.27" y="317.42" width="2.43" height="2.43" fill="#7a3a8c"/>
<rect x="217.91" y="318.88" width="2.43" height="2.43" fill="#7a3a8c"/>
<rect x="233.30" y="302.55" width="7.80" height="25.05" fill="#c8cbd8" stroke="#b8bccb" stroke-width="0.5"/>
<line x1="237.20" y1="300.01" x2="237.20" y2="305.10" stroke="#4d5872" stroke-width="0.8"/>
<line x1="235.20" y1="300.01" x2="239.20" y2="300.01" stroke="#4d5872" stroke-width="0.8"/>
<line x1="235.20" y1="305.10" x2="239.20" y2="305.10" stroke="#4d5872" stroke-width="0.8"/>
<circle cx="237.20" cy="293.64" r="1.35" fill="#4d5872"/>
<circle cx="236.03" cy="299.30" r="1.35" fill="#4d5872"/>
<circle cx="238.37" cy="299.30" r="1.35" fill="#4d5872"/>
<circle cx="237.20" cy="302.13" r="1.35" fill="#4d5872"/>
<circle cx="235.64" cy="303.55" r="1.35" fill="#4d5872"/>
<circle cx="238.76" cy="303.55" r="1.35" fill="#4d5872"/>
<circle cx="237.20" cy="306.38" r="1.35" fill="#4d5872"/>
<circle cx="236.42" cy="310.62" r="1.35" fill="#4d5872"/>
<circle cx="237.98" cy="312.04" r="1.35" fill="#4d5872"/>
<rect x="244.50" y="309.21" width="8.00" height="18.39" fill="#ad86bb" stroke="#9a6eaa" stroke-width="0.5"/>
<line x1="248.50" y1="307.93" x2="248.50" y2="310.48" stroke="#7a3a8c" stroke-width="0.8"/>
<line x1="246.50" y1="307.93" x2="250.50" y2="307.93" stroke="#7a3a8c" stroke-width="0.8"/>
<line x1="246.50" y1="310.48" x2="250.50" y2="310.48" stroke="#7a3a8c" stroke-width="0.8"/>
<rect x="246.09" y="305.16" width="2.43" height="2.43" fill="#7a3a8c"/>
<rect x="248.48" y="305.87" width="2.43" height="2.43" fill="#7a3a8c"/>
<rect x="247.28" y="307.28" width="2.43" height="2.43" fill="#7a3a8c"/>
<rect x="245.28" y="307.99" width="2.43" height="2.43" fill="#7a3a8c"/>
<rect x="249.28" y="308.70" width="2.43" height="2.43" fill="#7a3a8c"/>
<rect x="247.28" y="309.41" width="2.43" height="2.43" fill="#7a3a8c"/>
<rect x="246.48" y="310.11" width="2.43" height="2.43" fill="#7a3a8c"/>
<text x="202.50" y="276.00" font-size="6.5" text-anchor="start" font-weight="normal" fill="#383838" stroke="#383838" stroke-width="0.16"  textLength="33.5" lengthAdjust="spacingAndGlyphs">Leukocytes</text>
<text x="204.70" y="336.50" font-size="6.5" text-anchor="start" font-weight="normal" fill="#383838" stroke="#383838" stroke-width="0.16"  textLength="15.2" lengthAdjust="spacingAndGlyphs">Basal</text>
<text x="230.70" y="336.50" font-size="6.5" text-anchor="start" font-weight="normal" fill="#383838" stroke="#383838" stroke-width="0.16"  textLength="24.6" lengthAdjust="spacingAndGlyphs">Poly(I:C)</text>
<line x1="279.70" y1="268.20" x2="279.70" y2="328.20" stroke="#1e1e1e" stroke-width="1.15"/>
<line x1="279.15" y1="327.60" x2="336.60" y2="327.60" stroke="#1e1e1e" stroke-width="1.25"/>
<line x1="276.90" y1="327.60" x2="279.70" y2="327.60" stroke="#1e1e1e" stroke-width="0.9"/>
<text x="273.70" y="329.90" font-size="6.6" text-anchor="end" font-weight="normal" fill="#383838" stroke="#383838" stroke-width="0.16" >0</text>
<line x1="276.90" y1="313.45" x2="279.70" y2="313.45" stroke="#1e1e1e" stroke-width="0.9"/>
<text x="273.70" y="315.75" font-size="6.6" text-anchor="end" font-weight="normal" fill="#383838" stroke="#383838" stroke-width="0.16" >10</text>
<line x1="276.90" y1="299.30" x2="279.70" y2="299.30" stroke="#1e1e1e" stroke-width="0.9"/>
<text x="273.70" y="301.60" font-size="6.6" text-anchor="end" font-weight="normal" fill="#383838" stroke="#383838" stroke-width="0.16" >20</text>
<line x1="276.90" y1="285.15" x2="279.70" y2="285.15" stroke="#1e1e1e" stroke-width="0.9"/>
<text x="273.70" y="287.45" font-size="6.6" text-anchor="end" font-weight="normal" fill="#383838" stroke="#383838" stroke-width="0.16" >30</text>
<line x1="276.90" y1="271.00" x2="279.70" y2="271.00" stroke="#1e1e1e" stroke-width="0.9"/>
<text x="273.70" y="273.30" font-size="6.6" text-anchor="end" font-weight="normal" fill="#383838" stroke="#383838" stroke-width="0.16" >40</text>
<rect x="283.90" y="319.11" width="8.50" height="8.49" fill="#c8cbd8" stroke="#b8bccb" stroke-width="0.5"/>
<line x1="288.15" y1="317.84" x2="288.15" y2="320.38" stroke="#4d5872" stroke-width="0.8"/>
<line x1="286.15" y1="317.84" x2="290.15" y2="317.84" stroke="#4d5872" stroke-width="0.8"/>
<line x1="286.15" y1="320.38" x2="290.15" y2="320.38" stroke="#4d5872" stroke-width="0.8"/>
<circle cx="288.51" cy="319.51" r="1.35" fill="#4d5872"/>
<circle cx="288.55" cy="320.77" r="1.35" fill="#4d5872"/>
<circle cx="289.75" cy="317.28" r="1.35" fill="#4d5872"/>
<circle cx="288.93" cy="321.03" r="1.35" fill="#4d5872"/>
<circle cx="288.26" cy="320.08" r="1.35" fill="#4d5872"/>
<circle cx="286.87" cy="316.55" r="1.35" fill="#4d5872"/>
<circle cx="290.68" cy="321.69" r="1.35" fill="#4d5872"/>
<rect x="295.10" y="319.82" width="8.10" height="7.78" fill="#ad86bb" stroke="#9a6eaa" stroke-width="0.5"/>
<line x1="299.15" y1="318.86" x2="299.15" y2="320.77" stroke="#7a3a8c" stroke-width="0.8"/>
<line x1="297.15" y1="318.86" x2="301.15" y2="318.86" stroke="#7a3a8c" stroke-width="0.8"/>
<line x1="297.15" y1="320.77" x2="301.15" y2="320.77" stroke="#7a3a8c" stroke-width="0.8"/>
<rect x="297.70" y="318.35" width="2.43" height="2.43" fill="#7a3a8c"/>
<rect x="300.00" y="318.75" width="2.43" height="2.43" fill="#7a3a8c"/>
<rect x="297.97" y="318.23" width="2.43" height="2.43" fill="#7a3a8c"/>
<rect x="296.40" y="318.55" width="2.43" height="2.43" fill="#7a3a8c"/>
<rect x="298.57" y="317.36" width="2.43" height="2.43" fill="#7a3a8c"/>
<rect x="295.96" y="319.44" width="2.43" height="2.43" fill="#7a3a8c"/>
<rect x="295.95" y="317.29" width="2.43" height="2.43" fill="#7a3a8c"/>
<rect x="314.60" y="303.55" width="7.80" height="24.06" fill="#c8cbd8" stroke="#b8bccb" stroke-width="0.5"/>
<line x1="318.50" y1="301.00" x2="318.50" y2="306.09" stroke="#4d5872" stroke-width="0.8"/>
<line x1="316.50" y1="301.00" x2="320.50" y2="301.00" stroke="#4d5872" stroke-width="0.8"/>
<line x1="316.50" y1="306.09" x2="320.50" y2="306.09" stroke="#4d5872" stroke-width="0.8"/>
<circle cx="318.50" cy="293.64" r="1.35" fill="#4d5872"/>
<circle cx="317.33" cy="299.30" r="1.35" fill="#4d5872"/>
<circle cx="319.67" cy="300.72" r="1.35" fill="#4d5872"/>
<circle cx="318.50" cy="303.55" r="1.35" fill="#4d5872"/>
<circle cx="316.94" cy="304.96" r="1.35" fill="#4d5872"/>
<circle cx="320.06" cy="304.96" r="1.35" fill="#4d5872"/>
<circle cx="318.50" cy="307.79" r="1.35" fill="#4d5872"/>
<circle cx="317.72" cy="312.04" r="1.35" fill="#4d5872"/>
<rect x="325.80" y="310.62" width="8.00" height="16.98" fill="#ad86bb" stroke="#9a6eaa" stroke-width="0.5"/>
<line x1="329.80" y1="309.66" x2="329.80" y2="311.58" stroke="#7a3a8c" stroke-width="0.8"/>
<line x1="327.80" y1="309.66" x2="331.80" y2="309.66" stroke="#7a3a8c" stroke-width="0.8"/>
<line x1="327.80" y1="311.58" x2="331.80" y2="311.58" stroke="#7a3a8c" stroke-width="0.8"/>
<rect x="328.58" y="306.58" width="2.43" height="2.43" fill="#7a3a8c"/>
<rect x="327.38" y="307.99" width="2.43" height="2.43" fill="#7a3a8c"/>
<rect x="329.78" y="308.70" width="2.43" height="2.43" fill="#7a3a8c"/>
<rect x="328.58" y="309.41" width="2.43" height="2.43" fill="#7a3a8c"/>
<rect x="326.98" y="310.82" width="2.43" height="2.43" fill="#7a3a8c"/>
<rect x="330.19" y="310.82" width="2.43" height="2.43" fill="#7a3a8c"/>
<text x="283.10" y="276.00" font-size="6.5" text-anchor="start" font-weight="normal" fill="#383838" stroke="#383838" stroke-width="0.16"  textLength="23.8" lengthAdjust="spacingAndGlyphs">Mo/MΦ</text>
<text x="286.00" y="336.50" font-size="6.5" text-anchor="start" font-weight="normal" fill="#383838" stroke="#383838" stroke-width="0.16"  textLength="15.2" lengthAdjust="spacingAndGlyphs">Basal</text>
<text x="312.00" y="336.50" font-size="6.5" text-anchor="start" font-weight="normal" fill="#383838" stroke="#383838" stroke-width="0.16"  textLength="24.6" lengthAdjust="spacingAndGlyphs">Poly(I:C)</text>
<line x1="362.20" y1="268.20" x2="362.20" y2="328.20" stroke="#1e1e1e" stroke-width="1.15"/>
<line x1="361.65" y1="327.60" x2="418.60" y2="327.60" stroke="#1e1e1e" stroke-width="1.25"/>
<line x1="359.40" y1="327.60" x2="362.20" y2="327.60" stroke="#1e1e1e" stroke-width="0.9"/>
<text x="356.20" y="329.90" font-size="6.6" text-anchor="end" font-weight="normal" fill="#383838" stroke="#383838" stroke-width="0.16" >0.0</text>
<line x1="359.40" y1="308.73" x2="362.20" y2="308.73" stroke="#1e1e1e" stroke-width="0.9"/>
<text x="356.20" y="311.03" font-size="6.6" text-anchor="end" font-weight="normal" fill="#383838" stroke="#383838" stroke-width="0.16" >0.5</text>
<line x1="359.40" y1="289.87" x2="362.20" y2="289.87" stroke="#1e1e1e" stroke-width="0.9"/>
<text x="356.20" y="292.17" font-size="6.6" text-anchor="end" font-weight="normal" fill="#383838" stroke="#383838" stroke-width="0.16" >1.0</text>
<line x1="359.40" y1="271.00" x2="362.20" y2="271.00" stroke="#1e1e1e" stroke-width="0.9"/>
<text x="356.20" y="273.30" font-size="6.6" text-anchor="end" font-weight="normal" fill="#383838" stroke="#383838" stroke-width="0.16" >1.5</text>
<rect x="366.40" y="323.83" width="8.50" height="3.77" fill="#c8cbd8" stroke="#b8bccb" stroke-width="0.5"/>
<line x1="370.65" y1="322.98" x2="370.65" y2="324.68" stroke="#4d5872" stroke-width="0.8"/>
<line x1="368.65" y1="322.98" x2="372.65" y2="322.98" stroke="#4d5872" stroke-width="0.8"/>
<line x1="368.65" y1="324.68" x2="372.65" y2="324.68" stroke="#4d5872" stroke-width="0.8"/>
<circle cx="372.72" cy="323.12" r="1.35" fill="#4d5872"/>
<circle cx="372.01" cy="322.30" r="1.35" fill="#4d5872"/>
<circle cx="369.43" cy="323.31" r="1.35" fill="#4d5872"/>
<circle cx="372.72" cy="322.42" r="1.35" fill="#4d5872"/>
<circle cx="371.02" cy="325.07" r="1.35" fill="#4d5872"/>
<circle cx="370.20" cy="321.96" r="1.35" fill="#4d5872"/>
<rect x="377.60" y="325.34" width="8.10" height="2.26" fill="#ad86bb" stroke="#9a6eaa" stroke-width="0.5"/>
<line x1="381.65" y1="324.83" x2="381.65" y2="325.85" stroke="#7a3a8c" stroke-width="0.8"/>
<line x1="379.65" y1="324.83" x2="383.65" y2="324.83" stroke="#7a3a8c" stroke-width="0.8"/>
<line x1="379.65" y1="325.85" x2="383.65" y2="325.85" stroke="#7a3a8c" stroke-width="0.8"/>
<rect x="378.81" y="323.69" width="2.43" height="2.43" fill="#7a3a8c"/>
<rect x="381.09" y="324.17" width="2.43" height="2.43" fill="#7a3a8c"/>
<rect x="379.05" y="323.46" width="2.43" height="2.43" fill="#7a3a8c"/>
<rect x="381.93" y="324.09" width="2.43" height="2.43" fill="#7a3a8c"/>
<rect x="380.46" y="324.72" width="2.43" height="2.43" fill="#7a3a8c"/>
<rect x="378.02" y="324.41" width="2.43" height="2.43" fill="#7a3a8c"/>
<rect x="397.10" y="312.51" width="7.80" height="15.09" fill="#c8cbd8" stroke="#b8bccb" stroke-width="0.5"/>
<line x1="401.00" y1="309.96" x2="401.00" y2="315.05" stroke="#4d5872" stroke-width="0.8"/>
<line x1="399.00" y1="309.96" x2="403.00" y2="309.96" stroke="#4d5872" stroke-width="0.8"/>
<line x1="399.00" y1="315.05" x2="403.00" y2="315.05" stroke="#4d5872" stroke-width="0.8"/>
<circle cx="401.00" cy="308.73" r="1.35" fill="#4d5872"/>
<circle cx="399.44" cy="311.75" r="1.35" fill="#4d5872"/>
<circle cx="402.17" cy="312.51" r="1.35" fill="#4d5872"/>
<circle cx="401.00" cy="314.39" r="1.35" fill="#4d5872"/>
<circle cx="399.83" cy="316.28" r="1.35" fill="#4d5872"/>
<circle cx="402.56" cy="318.17" r="1.35" fill="#4d5872"/>
<circle cx="401.00" cy="320.05" r="1.35" fill="#4d5872"/>
<circle cx="400.22" cy="323.07" r="1.35" fill="#4d5872"/>
<circle cx="402.17" cy="323.83" r="1.35" fill="#4d5872"/>
<rect x="408.30" y="320.81" width="8.00" height="6.79" fill="#ad86bb" stroke="#9a6eaa" stroke-width="0.5"/>
<line x1="412.30" y1="317.41" x2="412.30" y2="324.20" stroke="#7a3a8c" stroke-width="0.8"/>
<line x1="410.30" y1="317.41" x2="414.30" y2="317.41" stroke="#7a3a8c" stroke-width="0.8"/>
<line x1="410.30" y1="324.20" x2="414.30" y2="324.20" stroke="#7a3a8c" stroke-width="0.8"/>
<rect x="412.69" y="309.41" width="2.43" height="2.43" fill="#7a3a8c"/>
<rect x="410.28" y="318.84" width="2.43" height="2.43" fill="#7a3a8c"/>
<rect x="411.88" y="320.73" width="2.43" height="2.43" fill="#7a3a8c"/>
<rect x="411.08" y="322.61" width="2.43" height="2.43" fill="#7a3a8c"/>
<rect x="409.48" y="323.37" width="2.43" height="2.43" fill="#7a3a8c"/>
<rect x="412.28" y="324.50" width="2.43" height="2.43" fill="#7a3a8c"/>
<text x="365.30" y="276.00" font-size="6.5" text-anchor="start" font-weight="normal" fill="#383838" stroke="#383838" stroke-width="0.16"  textLength="34.2" lengthAdjust="spacingAndGlyphs">Neutrophils</text>
<text x="368.50" y="336.50" font-size="6.5" text-anchor="start" font-weight="normal" fill="#383838" stroke="#383838" stroke-width="0.16"  textLength="15.2" lengthAdjust="spacingAndGlyphs">Basal</text>
<text x="394.50" y="336.50" font-size="6.5" text-anchor="start" font-weight="normal" fill="#383838" stroke="#383838" stroke-width="0.16"  textLength="24.6" lengthAdjust="spacingAndGlyphs">Poly(I:C)</text>
<line x1="438.80" y1="268.20" x2="438.80" y2="328.20" stroke="#1e1e1e" stroke-width="1.15"/>
<line x1="438.25" y1="327.60" x2="495.70" y2="327.60" stroke="#1e1e1e" stroke-width="1.25"/>
<line x1="436.00" y1="327.60" x2="438.80" y2="327.60" stroke="#1e1e1e" stroke-width="0.9"/>
<text x="432.80" y="329.90" font-size="6.6" text-anchor="end" font-weight="normal" fill="#383838" stroke="#383838" stroke-width="0.16" >0</text>
<line x1="436.00" y1="308.73" x2="438.80" y2="308.73" stroke="#1e1e1e" stroke-width="0.9"/>
<text x="432.80" y="311.03" font-size="6.6" text-anchor="end" font-weight="normal" fill="#383838" stroke="#383838" stroke-width="0.16" >1</text>
<line x1="436.00" y1="289.87" x2="438.80" y2="289.87" stroke="#1e1e1e" stroke-width="0.9"/>
<text x="432.80" y="292.17" font-size="6.6" text-anchor="end" font-weight="normal" fill="#383838" stroke="#383838" stroke-width="0.16" >2</text>
<line x1="436.00" y1="271.00" x2="438.80" y2="271.00" stroke="#1e1e1e" stroke-width="0.9"/>
<text x="432.80" y="273.30" font-size="6.6" text-anchor="end" font-weight="normal" fill="#383838" stroke="#383838" stroke-width="0.16" >3</text>
<rect x="443.00" y="326.09" width="8.50" height="1.51" fill="#c8cbd8" stroke="#b8bccb" stroke-width="0.5"/>
<line x1="447.25" y1="325.75" x2="447.25" y2="326.43" stroke="#4d5872" stroke-width="0.8"/>
<line x1="445.25" y1="325.75" x2="449.25" y2="325.75" stroke="#4d5872" stroke-width="0.8"/>
<line x1="445.25" y1="326.43" x2="449.25" y2="326.43" stroke="#4d5872" stroke-width="0.8"/>
<circle cx="447.45" cy="326.41" r="1.35" fill="#4d5872"/>
<circle cx="444.85" cy="325.86" r="1.35" fill="#4d5872"/>
<circle cx="445.77" cy="326.46" r="1.35" fill="#4d5872"/>
<circle cx="446.73" cy="325.88" r="1.35" fill="#4d5872"/>
<circle cx="449.74" cy="326.15" r="1.35" fill="#4d5872"/>
<circle cx="449.77" cy="325.35" r="1.35" fill="#4d5872"/>
<rect x="454.20" y="326.09" width="8.10" height="1.51" fill="#ad86bb" stroke="#9a6eaa" stroke-width="0.5"/>
<line x1="458.25" y1="325.75" x2="458.25" y2="326.43" stroke="#7a3a8c" stroke-width="0.8"/>
<line x1="456.25" y1="325.75" x2="460.25" y2="325.75" stroke="#7a3a8c" stroke-width="0.8"/>
<line x1="456.25" y1="326.43" x2="460.25" y2="326.43" stroke="#7a3a8c" stroke-width="0.8"/>
<rect x="454.66" y="325.46" width="2.43" height="2.43" fill="#7a3a8c"/>
<rect x="456.51" y="324.60" width="2.43" height="2.43" fill="#7a3a8c"/>
<rect x="455.28" y="325.46" width="2.43" height="2.43" fill="#7a3a8c"/>
<rect x="455.73" y="324.49" width="2.43" height="2.43" fill="#7a3a8c"/>
<rect x="455.32" y="324.51" width="2.43" height="2.43" fill="#7a3a8c"/>
<rect x="457.82" y="325.42" width="2.43" height="2.43" fill="#7a3a8c"/>
<rect x="473.70" y="319.11" width="7.80" height="8.49" fill="#c8cbd8" stroke="#b8bccb" stroke-width="0.5"/>
<line x1="477.60" y1="316.99" x2="477.60" y2="321.23" stroke="#4d5872" stroke-width="0.8"/>
<line x1="475.60" y1="316.99" x2="479.60" y2="316.99" stroke="#4d5872" stroke-width="0.8"/>
<line x1="475.60" y1="321.23" x2="479.60" y2="321.23" stroke="#4d5872" stroke-width="0.8"/>
<circle cx="477.60" cy="314.02" r="1.35" fill="#4d5872"/>
<circle cx="476.43" cy="317.22" r="1.35" fill="#4d5872"/>
<circle cx="478.77" cy="318.17" r="1.35" fill="#4d5872"/>
<circle cx="477.60" cy="319.11" r="1.35" fill="#4d5872"/>
<circle cx="476.04" cy="320.05" r="1.35" fill="#4d5872"/>
<circle cx="479.16" cy="321.00" r="1.35" fill="#4d5872"/>
<circle cx="477.60" cy="321.94" r="1.35" fill="#4d5872"/>
<circle cx="476.82" cy="322.88" r="1.35" fill="#4d5872"/>
<rect x="484.90" y="321.94" width="8.00" height="5.66" fill="#ad86bb" stroke="#9a6eaa" stroke-width="0.5"/>
<line x1="488.90" y1="319.82" x2="488.90" y2="324.06" stroke="#7a3a8c" stroke-width="0.8"/>
<line x1="486.90" y1="319.82" x2="490.90" y2="319.82" stroke="#7a3a8c" stroke-width="0.8"/>
<line x1="486.90" y1="324.06" x2="490.90" y2="324.06" stroke="#7a3a8c" stroke-width="0.8"/>
<rect x="487.69" y="315.07" width="2.43" height="2.43" fill="#7a3a8c"/>
<rect x="486.49" y="318.84" width="2.43" height="2.43" fill="#7a3a8c"/>
<rect x="488.88" y="319.78" width="2.43" height="2.43" fill="#7a3a8c"/>
<rect x="487.69" y="320.73" width="2.43" height="2.43" fill="#7a3a8c"/>
<rect x="486.08" y="321.67" width="2.43" height="2.43" fill="#7a3a8c"/>
<rect x="489.29" y="322.61" width="2.43" height="2.43" fill="#7a3a8c"/>
<rect x="487.69" y="324.50" width="2.43" height="2.43" fill="#7a3a8c"/>
<text x="442.00" y="276.00" font-size="6.5" text-anchor="start" font-weight="normal" fill="#383838" stroke="#383838" stroke-width="0.16"  textLength="39.0" lengthAdjust="spacingAndGlyphs">Lymphocytes</text>
<text x="445.10" y="336.50" font-size="6.5" text-anchor="start" font-weight="normal" fill="#383838" stroke="#383838" stroke-width="0.16"  textLength="15.2" lengthAdjust="spacingAndGlyphs">Basal</text>
<text x="471.10" y="336.50" font-size="6.5" text-anchor="start" font-weight="normal" fill="#383838" stroke="#383838" stroke-width="0.16"  textLength="24.6" lengthAdjust="spacingAndGlyphs">Poly(I:C)</text>
<path d="M236.80 289.70 V286.50 H248.60 V289.70" fill="none" stroke="#1e1e1e" stroke-width="0.8"/>
<circle cx="240.00" cy="283.20" r="1.0" fill="#333"/>
<circle cx="242.70" cy="283.20" r="1.0" fill="#333"/>
<circle cx="245.40" cy="283.20" r="1.0" fill="#333"/>
<path d="M317.50 291.00 V287.80 H329.00 V291.00" fill="none" stroke="#1e1e1e" stroke-width="0.8"/>
<circle cx="319.20" cy="284.50" r="1.0" fill="#333"/>
<circle cx="321.90" cy="284.50" r="1.0" fill="#333"/>
<circle cx="324.60" cy="284.50" r="1.0" fill="#333"/>
<circle cx="327.30" cy="284.50" r="1.0" fill="#333"/>
<path d="M400.30 306.20 V303.00 H412.00 V306.20" fill="none" stroke="#1e1e1e" stroke-width="0.8"/>
<circle cx="406.15" cy="299.70" r="1.0" fill="#333"/>
<path d="M477.40 311.60 V308.40 H489.00 V311.60" fill="none" stroke="#1e1e1e" stroke-width="0.8"/>
<text x="483.20" y="306.40" font-size="6.5" text-anchor="middle" font-weight="normal" fill="#383838" stroke="#383838" stroke-width="0.16" >0.0561</text>
<circle cx="313.30" cy="347.00" r="1.25" fill="#4d5872"/>
<text x="316.90" y="349.60" font-size="6.5" text-anchor="start" font-weight="normal" fill="#383838" stroke="#383838" stroke-width="0.16" >F7<tspan baseline-shift="3.0" font-size="3.7">fl/fl</tspan></text>
<rect x="337.91" y="345.61" width="2.79" height="2.79" fill="#7a3a8c"/>
<text x="343.30" y="349.60" font-size="6.5" text-anchor="start" font-weight="normal" fill="#383838" stroke="#383838" stroke-width="0.16" >F7<tspan baseline-shift="3.0" font-size="3.7">fl/fl</tspan>LysM<tspan baseline-shift="3.0" font-size="3.7">cre</tspan></text>
<text x="7.60" y="375.50" font-size="12.0" text-anchor="start" font-weight="bold" fill="#111" stroke="#111" stroke-width="0" >H</text>
<text x="98.00" y="377.80" font-size="6.5" text-anchor="start" font-weight="normal" fill="#383838" stroke="#383838" stroke-width="0.16" >BAL</text>
<text transform="translate(29.90,417.80) rotate(-90)" font-size="8.2" text-anchor="middle" fill="#383838" stroke="#383838" stroke-width="0.16" textLength="55" lengthAdjust="spacingAndGlyphs">Cells in BAL (10<tspan baseline-shift="3.6" font-size="4.8">5</tspan>)</text>
<line x1="49.40" y1="386.20" x2="49.40" y2="449.60" stroke="#1e1e1e" stroke-width="1.15"/>
<line x1="48.85" y1="449.00" x2="96.70" y2="449.00" stroke="#1e1e1e" stroke-width="1.25"/>
<line x1="46.60" y1="449.00" x2="49.40" y2="449.00" stroke="#1e1e1e" stroke-width="0.9"/>
<text x="43.40" y="451.30" font-size="6.6" text-anchor="end" font-weight="normal" fill="#383838" stroke="#383838" stroke-width="0.16" >0</text>
<line x1="46.60" y1="434.00" x2="49.40" y2="434.00" stroke="#1e1e1e" stroke-width="0.9"/>
<text x="43.40" y="436.30" font-size="6.6" text-anchor="end" font-weight="normal" fill="#383838" stroke="#383838" stroke-width="0.16" >10</text>
<line x1="46.60" y1="419.00" x2="49.40" y2="419.00" stroke="#1e1e1e" stroke-width="0.9"/>
<text x="43.40" y="421.30" font-size="6.6" text-anchor="end" font-weight="normal" fill="#383838" stroke="#383838" stroke-width="0.16" >20</text>
<line x1="46.60" y1="404.00" x2="49.40" y2="404.00" stroke="#1e1e1e" stroke-width="0.9"/>
<text x="43.40" y="406.30" font-size="6.6" text-anchor="end" font-weight="normal" fill="#383838" stroke="#383838" stroke-width="0.16" >30</text>
<line x1="46.60" y1="389.00" x2="49.40" y2="389.00" stroke="#1e1e1e" stroke-width="0.9"/>
<text x="43.40" y="391.30" font-size="6.6" text-anchor="end" font-weight="normal" fill="#383838" stroke="#383838" stroke-width="0.16" >40</text>
<rect x="56.30" y="414.50" width="13.90" height="34.50" fill="#c8cbd8" stroke="#b8bccb" stroke-width="0.5"/>
<line x1="63.25" y1="412.25" x2="63.25" y2="416.75" stroke="#4d5872" stroke-width="0.8"/>
<line x1="61.25" y1="412.25" x2="65.25" y2="412.25" stroke="#4d5872" stroke-width="0.8"/>
<line x1="61.25" y1="416.75" x2="65.25" y2="416.75" stroke="#4d5872" stroke-width="0.8"/>
<circle cx="63.25" cy="408.50" r="1.35" fill="#4d5872"/>
<circle cx="60.47" cy="411.50" r="1.35" fill="#4d5872"/>
<circle cx="66.03" cy="411.50" r="1.35" fill="#4d5872"/>
<circle cx="61.86" cy="414.50" r="1.35" fill="#4d5872"/>
<circle cx="64.64" cy="414.50" r="1.35" fill="#4d5872"/>
<circle cx="63.25" cy="416.00" r="1.35" fill="#4d5872"/>
<circle cx="59.77" cy="417.50" r="1.35" fill="#4d5872"/>
<circle cx="66.72" cy="417.50" r="1.35" fill="#4d5872"/>
<circle cx="61.16" cy="420.50" r="1.35" fill="#4d5872"/>
<circle cx="65.34" cy="421.25" r="1.35" fill="#4d5872"/>
<rect x="76.40" y="431.75" width="13.40" height="17.25" fill="#ad86bb" stroke="#9a6eaa" stroke-width="0.5"/>
<line x1="83.10" y1="428.75" x2="83.10" y2="434.75" stroke="#7a3a8c" stroke-width="0.8"/>
<line x1="81.10" y1="428.75" x2="85.10" y2="428.75" stroke="#7a3a8c" stroke-width="0.8"/>
<line x1="81.10" y1="434.75" x2="85.10" y2="434.75" stroke="#7a3a8c" stroke-width="0.8"/>
<path d="M83.10 414.30 L84.74 417.28 L81.46 417.28Z" fill="#7a3a8c"/>
<path d="M80.42 427.05 L82.06 430.03 L78.78 430.03Z" fill="#7a3a8c"/>
<path d="M85.78 427.80 L87.42 430.78 L84.14 430.78Z" fill="#7a3a8c"/>
<path d="M83.10 429.30 L84.74 432.28 L81.46 432.28Z" fill="#7a3a8c"/>
<path d="M81.09 430.80 L82.73 433.78 L79.45 433.78Z" fill="#7a3a8c"/>
<path d="M85.11 431.55 L86.75 434.53 L83.47 434.53Z" fill="#7a3a8c"/>
<path d="M83.10 433.05 L84.74 436.03 L81.46 436.03Z" fill="#7a3a8c"/>
<path d="M79.75 433.80 L81.39 436.78 L78.11 436.78Z" fill="#7a3a8c"/>
<path d="M86.45 433.80 L88.09 436.78 L84.81 436.78Z" fill="#7a3a8c"/>
<path d="M63.00 402.80 V399.60 H83.60 V402.80" fill="none" stroke="#1e1e1e" stroke-width="0.8"/>
<circle cx="71.95" cy="396.30" r="1.0" fill="#333"/>
<circle cx="74.65" cy="396.30" r="1.0" fill="#333"/>
<text x="53.80" y="389.80" font-size="6.5" text-anchor="start" font-weight="normal" fill="#383838" stroke="#383838" stroke-width="0.16"  textLength="33.2" lengthAdjust="spacingAndGlyphs">Leukocytes</text>
<text x="72.55" y="458.40" font-size="6.5" text-anchor="middle" font-weight="normal" fill="#383838" stroke="#383838" stroke-width="0.16" >Poly(I:C)</text>
<line x1="116.50" y1="386.20" x2="116.50" y2="449.60" stroke="#1e1e1e" stroke-width="1.15"/>
<line x1="115.95" y1="449.00" x2="165.00" y2="449.00" stroke="#1e1e1e" stroke-width="1.25"/>
<line x1="113.70" y1="449.00" x2="116.50" y2="449.00" stroke="#1e1e1e" stroke-width="0.9"/>
<text x="110.50" y="451.30" font-size="6.6" text-anchor="end" font-weight="normal" fill="#383838" stroke="#383838" stroke-width="0.16" >0</text>
<line x1="113.70" y1="434.00" x2="116.50" y2="434.00" stroke="#1e1e1e" stroke-width="0.9"/>
<text x="110.50" y="436.30" font-size="6.6" text-anchor="end" font-weight="normal" fill="#383838" stroke="#383838" stroke-width="0.16" >10</text>
<line x1="113.70" y1="419.00" x2="116.50" y2="419.00" stroke="#1e1e1e" stroke-width="0.9"/>
<text x="110.50" y="421.30" font-size="6.6" text-anchor="end" font-weight="normal" fill="#383838" stroke="#383838" stroke-width="0.16" >20</text>
<line x1="113.70" y1="404.00" x2="116.50" y2="404.00" stroke="#1e1e1e" stroke-width="0.9"/>
<text x="110.50" y="406.30" font-size="6.6" text-anchor="end" font-weight="normal" fill="#383838" stroke="#383838" stroke-width="0.16" >30</text>
<line x1="113.70" y1="389.00" x2="116.50" y2="389.00" stroke="#1e1e1e" stroke-width="0.9"/>
<text x="110.50" y="391.30" font-size="6.6" text-anchor="end" font-weight="normal" fill="#383838" stroke="#383838" stroke-width="0.16" >40</text>
<rect x="123.50" y="416.75" width="13.50" height="32.25" fill="#c8cbd8" stroke="#b8bccb" stroke-width="0.5"/>
<line x1="130.25" y1="414.50" x2="130.25" y2="419.00" stroke="#4d5872" stroke-width="0.8"/>
<line x1="128.25" y1="414.50" x2="132.25" y2="414.50" stroke="#4d5872" stroke-width="0.8"/>
<line x1="128.25" y1="419.00" x2="132.25" y2="419.00" stroke="#4d5872" stroke-width="0.8"/>
<circle cx="130.25" cy="409.25" r="1.35" fill="#4d5872"/>
<circle cx="127.55" cy="412.25" r="1.35" fill="#4d5872"/>
<circle cx="132.95" cy="413.00" r="1.35" fill="#4d5872"/>
<circle cx="128.90" cy="415.25" r="1.35" fill="#4d5872"/>
<circle cx="131.60" cy="416.00" r="1.35" fill="#4d5872"/>
<circle cx="130.25" cy="417.50" r="1.35" fill="#4d5872"/>
<circle cx="126.88" cy="419.00" r="1.35" fill="#4d5872"/>
<circle cx="133.62" cy="419.00" r="1.35" fill="#4d5872"/>
<circle cx="128.22" cy="421.25" r="1.35" fill="#4d5872"/>
<circle cx="132.28" cy="422.00" r="1.35" fill="#4d5872"/>
<rect x="143.60" y="432.80" width="13.40" height="16.20" fill="#ad86bb" stroke="#9a6eaa" stroke-width="0.5"/>
<line x1="150.30" y1="429.80" x2="150.30" y2="435.80" stroke="#7a3a8c" stroke-width="0.8"/>
<line x1="148.30" y1="429.80" x2="152.30" y2="429.80" stroke="#7a3a8c" stroke-width="0.8"/>
<line x1="148.30" y1="435.80" x2="152.30" y2="435.80" stroke="#7a3a8c" stroke-width="0.8"/>
<path d="M150.30 417.30 L151.94 420.28 L148.66 420.28Z" fill="#7a3a8c"/>
<path d="M147.62 428.55 L149.26 431.53 L145.98 431.53Z" fill="#7a3a8c"/>
<path d="M152.98 429.30 L154.62 432.28 L151.34 432.28Z" fill="#7a3a8c"/>
<path d="M150.30 430.80 L151.94 433.78 L148.66 433.78Z" fill="#7a3a8c"/>
<path d="M148.29 431.55 L149.93 434.53 L146.65 434.53Z" fill="#7a3a8c"/>
<path d="M152.31 432.30 L153.95 435.28 L150.67 435.28Z" fill="#7a3a8c"/>
<path d="M150.30 433.80 L151.94 436.78 L148.66 436.78Z" fill="#7a3a8c"/>
<path d="M146.95 434.55 L148.59 437.53 L145.31 437.53Z" fill="#7a3a8c"/>
<path d="M153.65 434.55 L155.29 437.53 L152.01 437.53Z" fill="#7a3a8c"/>
<path d="M130.20 402.80 V399.60 H151.00 V402.80" fill="none" stroke="#1e1e1e" stroke-width="0.8"/>
<circle cx="139.25" cy="396.30" r="1.0" fill="#333"/>
<circle cx="141.95" cy="396.30" r="1.0" fill="#333"/>
<text x="120.00" y="389.80" font-size="6.5" text-anchor="start" font-weight="normal" fill="#383838" stroke="#383838" stroke-width="0.16"  textLength="23.8" lengthAdjust="spacingAndGlyphs">Mo/MΦ</text>
<text x="140.25" y="458.40" font-size="6.5" text-anchor="middle" font-weight="normal" fill="#383838" stroke="#383838" stroke-width="0.16" >Poly(I:C)</text>
<circle cx="69.80" cy="469.40" r="1.2" fill="#4d5872"/>
<text x="72.40" y="471.30" font-size="6.5" text-anchor="start" font-weight="normal" fill="#383838" stroke="#383838" stroke-width="0.16" >F7<tspan baseline-shift="3.0" font-size="3.7">fl/fl</tspan></text>
<path d="M91.40 467.64 L93.11 470.72 L89.69 470.72Z" fill="#7a3a8c"/>
<text x="94.80" y="471.30" font-size="6.5" text-anchor="start" font-weight="normal" fill="#383838" stroke="#383838" stroke-width="0.16" >F7<tspan baseline-shift="3.0" font-size="3.7">fl/fl</tspan>CX3CR1<tspan baseline-shift="3.0" font-size="3.7">cre</tspan></text>
<rect x="203.6" y="366.9" width="2.6" height="7.6" fill="#111"/>
<text x="327.00" y="378.90" font-size="6.5" text-anchor="start" font-weight="normal" fill="#383838" stroke="#383838" stroke-width="0.16" >BAL</text>
<text transform="translate(220.30,416.50) rotate(-90)" font-size="8.2" text-anchor="middle" fill="#383838" stroke="#383838" stroke-width="0.16" textLength="54.2" lengthAdjust="spacingAndGlyphs">Cells in BAL (10<tspan baseline-shift="3.6" font-size="4.8">5</tspan>)</text>
<line x1="239.90" y1="386.00" x2="239.90" y2="447.40" stroke="#1e1e1e" stroke-width="1.15"/>
<line x1="239.35" y1="446.80" x2="326.00" y2="446.80" stroke="#1e1e1e" stroke-width="1.25"/>
<line x1="237.10" y1="446.80" x2="239.90" y2="446.80" stroke="#1e1e1e" stroke-width="0.9"/>
<text x="233.90" y="449.10" font-size="6.6" text-anchor="end" font-weight="normal" fill="#383838" stroke="#383838" stroke-width="0.16" >0</text>
<line x1="237.10" y1="432.30" x2="239.90" y2="432.30" stroke="#1e1e1e" stroke-width="0.9"/>
<text x="233.90" y="434.60" font-size="6.6" text-anchor="end" font-weight="normal" fill="#383838" stroke="#383838" stroke-width="0.16" >10</text>
<line x1="237.10" y1="417.80" x2="239.90" y2="417.80" stroke="#1e1e1e" stroke-width="0.9"/>
<text x="233.90" y="420.10" font-size="6.6" text-anchor="end" font-weight="normal" fill="#383838" stroke="#383838" stroke-width="0.16" >20</text>
<line x1="237.10" y1="403.30" x2="239.90" y2="403.30" stroke="#1e1e1e" stroke-width="0.9"/>
<text x="233.90" y="405.60" font-size="6.6" text-anchor="end" font-weight="normal" fill="#383838" stroke="#383838" stroke-width="0.16" >30</text>
<line x1="237.10" y1="388.80" x2="239.90" y2="388.80" stroke="#1e1e1e" stroke-width="0.9"/>
<text x="233.90" y="391.10" font-size="6.6" text-anchor="end" font-weight="normal" fill="#383838" stroke="#383838" stroke-width="0.16" >40</text>
<rect x="246.30" y="425.49" width="10.80" height="21.31" fill="#c8cbd8" stroke="#b8bccb" stroke-width="0.5"/>
<line x1="251.70" y1="423.75" x2="251.70" y2="427.23" stroke="#4d5872" stroke-width="0.8"/>
<line x1="249.70" y1="423.75" x2="253.70" y2="423.75" stroke="#4d5872" stroke-width="0.8"/>
<line x1="249.70" y1="427.23" x2="253.70" y2="427.23" stroke="#4d5872" stroke-width="0.8"/>
<circle cx="251.70" cy="422.15" r="1.35" fill="#4d5872"/>
<circle cx="249.54" cy="424.32" r="1.35" fill="#4d5872"/>
<circle cx="253.86" cy="425.05" r="1.35" fill="#4d5872"/>
<circle cx="251.70" cy="426.50" r="1.35" fill="#4d5872"/>
<circle cx="250.08" cy="427.95" r="1.35" fill="#4d5872"/>
<circle cx="253.32" cy="428.68" r="1.35" fill="#4d5872"/>
<rect x="263.30" y="433.03" width="11.10" height="13.77" fill="#ad86bb" stroke="#9a6eaa" stroke-width="0.5"/>
<line x1="268.85" y1="431.87" x2="268.85" y2="434.19" stroke="#7a3a8c" stroke-width="0.8"/>
<line x1="266.85" y1="431.87" x2="270.85" y2="431.87" stroke="#7a3a8c" stroke-width="0.8"/>
<line x1="266.85" y1="434.19" x2="270.85" y2="434.19" stroke="#7a3a8c" stroke-width="0.8"/>
<rect x="264.86" y="429.64" width="2.43" height="2.43" fill="#7a3a8c"/>
<rect x="266.53" y="430.36" width="2.43" height="2.43" fill="#7a3a8c"/>
<rect x="268.75" y="431.09" width="2.43" height="2.43" fill="#7a3a8c"/>
<rect x="270.41" y="431.81" width="2.43" height="2.43" fill="#7a3a8c"/>
<rect x="267.64" y="432.54" width="2.43" height="2.43" fill="#7a3a8c"/>
<rect x="265.42" y="433.26" width="2.43" height="2.43" fill="#7a3a8c"/>
<rect x="269.86" y="433.99" width="2.43" height="2.43" fill="#7a3a8c"/>
<rect x="267.64" y="434.71" width="2.43" height="2.43" fill="#7a3a8c"/>
<rect x="292.60" y="427.23" width="11.40" height="19.57" fill="#c8cbd8" stroke="#b8bccb" stroke-width="0.5"/>
<line x1="298.30" y1="425.49" x2="298.30" y2="428.97" stroke="#4d5872" stroke-width="0.8"/>
<line x1="296.30" y1="425.49" x2="300.30" y2="425.49" stroke="#4d5872" stroke-width="0.8"/>
<line x1="296.30" y1="428.97" x2="300.30" y2="428.97" stroke="#4d5872" stroke-width="0.8"/>
<circle cx="298.30" cy="422.15" r="1.35" fill="#4d5872"/>
<circle cx="296.02" cy="426.50" r="1.35" fill="#4d5872"/>
<circle cx="300.58" cy="426.50" r="1.35" fill="#4d5872"/>
<circle cx="298.30" cy="427.95" r="1.35" fill="#4d5872"/>
<circle cx="296.59" cy="428.68" r="1.35" fill="#4d5872"/>
<circle cx="300.01" cy="429.40" r="1.35" fill="#4d5872"/>
<rect x="309.00" y="434.19" width="12.00" height="12.62" fill="#ad86bb" stroke="#9a6eaa" stroke-width="0.5"/>
<line x1="315.00" y1="433.02" x2="315.00" y2="435.35" stroke="#7a3a8c" stroke-width="0.8"/>
<line x1="313.00" y1="433.02" x2="317.00" y2="433.02" stroke="#7a3a8c" stroke-width="0.8"/>
<line x1="313.00" y1="435.35" x2="317.00" y2="435.35" stroke="#7a3a8c" stroke-width="0.8"/>
<rect x="310.49" y="433.12" width="2.43" height="2.43" fill="#7a3a8c"/>
<rect x="312.29" y="433.55" width="2.43" height="2.43" fill="#7a3a8c"/>
<rect x="314.09" y="433.70" width="2.43" height="2.43" fill="#7a3a8c"/>
<rect x="315.89" y="433.99" width="2.43" height="2.43" fill="#7a3a8c"/>
<rect x="317.39" y="434.28" width="2.43" height="2.43" fill="#7a3a8c"/>
<rect x="313.19" y="434.57" width="2.43" height="2.43" fill="#7a3a8c"/>
<path d="M251.30 417.20 V414.00 H268.60 V417.20" fill="none" stroke="#1e1e1e" stroke-width="0.8"/>
<circle cx="257.25" cy="410.70" r="1.0" fill="#333"/>
<circle cx="259.95" cy="410.70" r="1.0" fill="#333"/>
<circle cx="262.65" cy="410.70" r="1.0" fill="#333"/>
<path d="M297.60 418.40 V415.20 H315.60 V418.40" fill="none" stroke="#1e1e1e" stroke-width="0.8"/>
<circle cx="302.55" cy="411.90" r="1.0" fill="#333"/>
<circle cx="305.25" cy="411.90" r="1.0" fill="#333"/>
<circle cx="307.95" cy="411.90" r="1.0" fill="#333"/>
<circle cx="310.65" cy="411.90" r="1.0" fill="#333"/>
<text x="244.30" y="395.20" font-size="6.5" text-anchor="start" font-weight="normal" fill="#383838" stroke="#383838" stroke-width="0.16"  textLength="33.5" lengthAdjust="spacingAndGlyphs">Leukocytes</text>
<text x="259.40" y="456.20" font-size="6.5" text-anchor="middle" font-weight="normal" fill="#383838" stroke="#383838" stroke-width="0.16" >1 dose</text>
<text x="306.80" y="456.20" font-size="6.5" text-anchor="middle" font-weight="normal" fill="#383838" stroke="#383838" stroke-width="0.16" >2 doses</text>
<line x1="344.30" y1="386.00" x2="344.30" y2="447.40" stroke="#1e1e1e" stroke-width="1.15"/>
<line x1="343.75" y1="446.80" x2="431.00" y2="446.80" stroke="#1e1e1e" stroke-width="1.25"/>
<line x1="341.50" y1="446.80" x2="344.30" y2="446.80" stroke="#1e1e1e" stroke-width="0.9"/>
<text x="338.30" y="449.10" font-size="6.6" text-anchor="end" font-weight="normal" fill="#383838" stroke="#383838" stroke-width="0.16" >0</text>
<line x1="341.50" y1="432.30" x2="344.30" y2="432.30" stroke="#1e1e1e" stroke-width="0.9"/>
<text x="338.30" y="434.60" font-size="6.6" text-anchor="end" font-weight="normal" fill="#383838" stroke="#383838" stroke-width="0.16" >10</text>
<line x1="341.50" y1="417.80" x2="344.30" y2="417.80" stroke="#1e1e1e" stroke-width="0.9"/>
<text x="338.30" y="420.10" font-size="6.6" text-anchor="end" font-weight="normal" fill="#383838" stroke="#383838" stroke-width="0.16" >20</text>
<line x1="341.50" y1="403.30" x2="344.30" y2="403.30" stroke="#1e1e1e" stroke-width="0.9"/>
<text x="338.30" y="405.60" font-size="6.6" text-anchor="end" font-weight="normal" fill="#383838" stroke="#383838" stroke-width="0.16" >30</text>
<line x1="341.50" y1="388.80" x2="344.30" y2="388.80" stroke="#1e1e1e" stroke-width="0.9"/>
<text x="338.30" y="391.10" font-size="6.6" text-anchor="end" font-weight="normal" fill="#383838" stroke="#383838" stroke-width="0.16" >40</text>
<rect x="349.40" y="427.95" width="12.60" height="18.85" fill="#c8cbd8" stroke="#b8bccb" stroke-width="0.5"/>
<line x1="355.70" y1="426.21" x2="355.70" y2="429.69" stroke="#4d5872" stroke-width="0.8"/>
<line x1="353.70" y1="426.21" x2="357.70" y2="426.21" stroke="#4d5872" stroke-width="0.8"/>
<line x1="353.70" y1="429.69" x2="357.70" y2="429.69" stroke="#4d5872" stroke-width="0.8"/>
<circle cx="352.55" cy="426.50" r="1.35" fill="#4d5872"/>
<circle cx="355.70" cy="425.05" r="1.35" fill="#4d5872"/>
<circle cx="358.85" cy="426.50" r="1.35" fill="#4d5872"/>
<circle cx="353.81" cy="427.95" r="1.35" fill="#4d5872"/>
<circle cx="357.59" cy="428.68" r="1.35" fill="#4d5872"/>
<rect x="368.50" y="433.03" width="11.50" height="13.77" fill="#ad86bb" stroke="#9a6eaa" stroke-width="0.5"/>
<line x1="374.25" y1="431.87" x2="374.25" y2="434.19" stroke="#7a3a8c" stroke-width="0.8"/>
<line x1="372.25" y1="431.87" x2="376.25" y2="431.87" stroke="#7a3a8c" stroke-width="0.8"/>
<line x1="372.25" y1="434.19" x2="376.25" y2="434.19" stroke="#7a3a8c" stroke-width="0.8"/>
<rect x="370.16" y="428.19" width="2.43" height="2.43" fill="#7a3a8c"/>
<rect x="371.89" y="429.64" width="2.43" height="2.43" fill="#7a3a8c"/>
<rect x="374.19" y="430.36" width="2.43" height="2.43" fill="#7a3a8c"/>
<rect x="375.91" y="429.64" width="2.43" height="2.43" fill="#7a3a8c"/>
<rect x="373.04" y="432.54" width="2.43" height="2.43" fill="#7a3a8c"/>
<rect x="370.74" y="433.99" width="2.43" height="2.43" fill="#7a3a8c"/>
<rect x="375.34" y="433.26" width="2.43" height="2.43" fill="#7a3a8c"/>
<rect x="370.16" y="431.09" width="2.43" height="2.43" fill="#7a3a8c"/>
<rect x="397.50" y="426.50" width="11.60" height="20.30" fill="#c8cbd8" stroke="#b8bccb" stroke-width="0.5"/>
<line x1="403.30" y1="424.76" x2="403.30" y2="428.24" stroke="#4d5872" stroke-width="0.8"/>
<line x1="401.30" y1="424.76" x2="405.30" y2="424.76" stroke="#4d5872" stroke-width="0.8"/>
<line x1="401.30" y1="428.24" x2="405.30" y2="428.24" stroke="#4d5872" stroke-width="0.8"/>
<circle cx="403.30" cy="422.15" r="1.35" fill="#4d5872"/>
<circle cx="403.30" cy="424.32" r="1.35" fill="#4d5872"/>
<circle cx="401.56" cy="426.50" r="1.35" fill="#4d5872"/>
<circle cx="405.04" cy="426.50" r="1.35" fill="#4d5872"/>
<circle cx="403.30" cy="429.40" r="1.35" fill="#4d5872"/>
<rect x="415.50" y="435.20" width="11.60" height="11.60" fill="#ad86bb" stroke="#9a6eaa" stroke-width="0.5"/>
<line x1="421.30" y1="434.04" x2="421.30" y2="436.36" stroke="#7a3a8c" stroke-width="0.8"/>
<line x1="419.30" y1="434.04" x2="423.30" y2="434.04" stroke="#7a3a8c" stroke-width="0.8"/>
<line x1="419.30" y1="436.36" x2="423.30" y2="436.36" stroke="#7a3a8c" stroke-width="0.8"/>
<rect x="416.90" y="432.54" width="2.43" height="2.43" fill="#7a3a8c"/>
<rect x="418.64" y="433.26" width="2.43" height="2.43" fill="#7a3a8c"/>
<rect x="420.38" y="433.70" width="2.43" height="2.43" fill="#7a3a8c"/>
<rect x="422.12" y="433.99" width="2.43" height="2.43" fill="#7a3a8c"/>
<rect x="423.57" y="434.28" width="2.43" height="2.43" fill="#7a3a8c"/>
<rect x="419.51" y="434.57" width="2.43" height="2.43" fill="#7a3a8c"/>
<path d="M356.30 418.40 V415.20 H374.70 V418.40" fill="none" stroke="#1e1e1e" stroke-width="0.8"/>
<circle cx="362.80" cy="411.90" r="1.0" fill="#333"/>
<circle cx="365.50" cy="411.90" r="1.0" fill="#333"/>
<circle cx="368.20" cy="411.90" r="1.0" fill="#333"/>
<path d="M403.80 418.70 V415.50 H421.40 V418.70" fill="none" stroke="#1e1e1e" stroke-width="0.8"/>
<circle cx="408.55" cy="412.20" r="1.0" fill="#333"/>
<circle cx="411.25" cy="412.20" r="1.0" fill="#333"/>
<circle cx="413.95" cy="412.20" r="1.0" fill="#333"/>
<circle cx="416.65" cy="412.20" r="1.0" fill="#333"/>
<text x="349.30" y="395.20" font-size="6.5" text-anchor="start" font-weight="normal" fill="#383838" stroke="#383838" stroke-width="0.16"  textLength="22.0" lengthAdjust="spacingAndGlyphs">Mo/MΦ</text>
<text x="364.40" y="456.20" font-size="6.5" text-anchor="middle" font-weight="normal" fill="#383838" stroke="#383838" stroke-width="0.16" >1 dose</text>
<text x="412.30" y="456.20" font-size="6.5" text-anchor="middle" font-weight="normal" fill="#383838" stroke="#383838" stroke-width="0.16" >2 doses</text>
<text x="435.60" y="456.20" font-size="6.5" text-anchor="start" font-weight="normal" fill="#383838" stroke="#383838" stroke-width="0.16" >Poly(I:C)</text>
<circle cx="314.20" cy="464.00" r="1.25" fill="#4d5872"/>
<text x="318.30" y="466.60" font-size="6.5" text-anchor="start" font-weight="normal" fill="#383838" stroke="#383838" stroke-width="0.16" >F7<tspan baseline-shift="3.0" font-size="3.7">fl/fl</tspan></text>
<rect x="338.11" y="462.61" width="2.79" height="2.79" fill="#7a3a8c"/>
<text x="343.80" y="466.60" font-size="6.5" text-anchor="start" font-weight="normal" fill="#383838" stroke="#383838" stroke-width="0.16" >F7<tspan baseline-shift="3.0" font-size="3.7">fl/fl</tspan>LysM<tspan baseline-shift="3.0" font-size="3.7">cre</tspan></text>
<text x="7.40" y="128.80" font-size="12.0" text-anchor="start" font-weight="bold" fill="#111" stroke="#111" stroke-width="0" >D</text>
<text x="7.80" y="248.00" font-size="12.0" text-anchor="start" font-weight="bold" fill="#111" stroke="#111" stroke-width="0" >F</text>
<rect x="27.20" y="183.40" width="109.30" height="22.30" fill="#f3f5f8"/>
<path d="M26.50 184.90 L27.00 193.95 M27.90 184.90 L27.40 193.95 M26.50 204.20 L27.00 195.15 M27.90 204.20 L27.40 195.15 M29.90 184.90 L30.40 193.95 M31.30 184.90 L30.80 193.95 M29.90 204.20 L30.40 195.15 M31.30 204.20 L30.80 195.15 M33.30 184.90 L33.80 193.95 M34.70 184.90 L34.20 193.95 M33.30 204.20 L33.80 195.15 M34.70 204.20 L34.20 195.15 M36.70 184.90 L37.20 193.95 M38.10 184.90 L37.60 193.95 M36.70 204.20 L37.20 195.15 M38.10 204.20 L37.60 195.15 M40.10 184.90 L40.60 193.95 M41.50 184.90 L41.00 193.95 M40.10 204.20 L40.60 195.15 M41.50 204.20 L41.00 195.15 M43.50 184.90 L44.00 193.95 M44.90 184.90 L44.40 193.95 M43.50 204.20 L44.00 195.15 M44.90 204.20 L44.40 195.15 M46.90 184.90 L47.40 193.95 M48.30 184.90 L47.80 193.95 M46.90 204.20 L47.40 195.15 M48.30 204.20 L47.80 195.15 M50.30 184.90 L50.80 193.95 M51.70 184.90 L51.20 193.95 M50.30 204.20 L50.80 195.15 M51.70 204.20 L51.20 195.15 M53.70 184.90 L54.20 193.95 M55.10 184.90 L54.60 193.95 M53.70 204.20 L54.20 195.15 M55.10 204.20 L54.60 195.15 M57.10 184.90 L57.60 193.95 M58.50 184.90 L58.00 193.95 M57.10 204.20 L57.60 195.15 M58.50 204.20 L58.00 195.15 M60.50 184.90 L61.00 193.95 M61.90 184.90 L61.40 193.95 M60.50 204.20 L61.00 195.15 M61.90 204.20 L61.40 195.15 M63.90 184.90 L64.40 193.95 M65.30 184.90 L64.80 193.95 M63.90 204.20 L64.40 195.15 M65.30 204.20 L64.80 195.15 M67.30 184.90 L67.80 193.95 M68.70 184.90 L68.20 193.95 M67.30 204.20 L67.80 195.15 M68.70 204.20 L68.20 195.15 M70.70 184.90 L71.20 193.95 M72.10 184.90 L71.60 193.95 M70.70 204.20 L71.20 195.15 M72.10 204.20 L71.60 195.15 M74.10 184.90 L74.60 193.95 M75.50 184.90 L75.00 193.95 M74.10 204.20 L74.60 195.15 M75.50 204.20 L75.00 195.15 M77.50 184.90 L78.00 193.95 M78.90 184.90 L78.40 193.95 M77.50 204.20 L78.00 195.15 M78.90 204.20 L78.40 195.15 M80.90 184.90 L81.40 193.95 M82.30 184.90 L81.80 193.95 M80.90 204.20 L81.40 195.15 M82.30 204.20 L81.80 195.15 M84.30 184.90 L84.80 193.95 M85.70 184.90 L85.20 193.95 M84.30 204.20 L84.80 195.15 M85.70 204.20 L85.20 195.15 M87.70 184.90 L88.20 193.95 M89.10 184.90 L88.60 193.95 M87.70 204.20 L88.20 195.15 M89.10 204.20 L88.60 195.15 M91.10 184.90 L91.60 193.95 M92.50 184.90 L92.00 193.95 M91.10 204.20 L91.60 195.15 M92.50 204.20 L92.00 195.15 M94.50 184.90 L95.00 193.95 M95.90 184.90 L95.40 193.95 M94.50 204.20 L95.00 195.15 M95.90 204.20 L95.40 195.15 M97.90 184.90 L98.40 193.95 M99.30 184.90 L98.80 193.95 M97.90 204.20 L98.40 195.15 M99.30 204.20 L98.80 195.15 M101.30 184.90 L101.80 193.95 M102.70 184.90 L102.20 193.95 M101.30 204.20 L101.80 195.15 M102.70 204.20 L102.20 195.15 M104.70 184.90 L105.20 193.95 M106.10 184.90 L105.60 193.95 M104.70 204.20 L105.20 195.15 M106.10 204.20 L105.60 195.15 M108.10 184.90 L108.60 193.95 M109.50 184.90 L109.00 193.95 M108.10 204.20 L108.60 195.15 M109.50 204.20 L109.00 195.15 M111.50 184.90 L112.00 193.95 M112.90 184.90 L112.40 193.95 M111.50 204.20 L112.00 195.15 M112.90 204.20 L112.40 195.15 M114.90 184.90 L115.40 193.95 M116.30 184.90 L115.80 193.95 M114.90 204.20 L115.40 195.15 M116.30 204.20 L115.80 195.15 M118.30 184.90 L118.80 193.95 M119.70 184.90 L119.20 193.95 M118.30 204.20 L118.80 195.15 M119.70 204.20 L119.20 195.15 M121.70 184.90 L122.20 193.95 M123.10 184.90 L122.60 193.95 M121.70 204.20 L122.20 195.15 M123.10 204.20 L122.60 195.15 M125.10 184.90 L125.60 193.95 M126.50 184.90 L126.00 193.95 M125.10 204.20 L125.60 195.15 M126.50 204.20 L126.00 195.15 M128.50 184.90 L129.00 193.95 M129.90 184.90 L129.40 193.95 M128.50 204.20 L129.00 195.15 M129.90 204.20 L129.40 195.15 M131.90 184.90 L132.40 193.95 M133.30 184.90 L132.80 193.95 M131.90 204.20 L132.40 195.15 M133.30 204.20 L132.80 195.15 M135.30 184.90 L135.80 193.95 M136.70 184.90 L136.20 193.95 M135.30 204.20 L135.80 195.15 M136.70 204.20 L136.20 195.15" stroke="#b3bccb" stroke-width="0.8" fill="none"/>
<g fill="#9aa7b9"><circle cx="27.20" cy="183.40" r="2.1"/><circle cx="27.20" cy="205.70" r="2.1"/><circle cx="30.60" cy="183.40" r="2.1"/><circle cx="30.60" cy="205.70" r="2.1"/><circle cx="34.00" cy="183.40" r="2.1"/><circle cx="34.00" cy="205.70" r="2.1"/><circle cx="37.40" cy="183.40" r="2.1"/><circle cx="37.40" cy="205.70" r="2.1"/><circle cx="40.80" cy="183.40" r="2.1"/><circle cx="40.80" cy="205.70" r="2.1"/><circle cx="44.20" cy="183.40" r="2.1"/><circle cx="44.20" cy="205.70" r="2.1"/><circle cx="47.60" cy="183.40" r="2.1"/><circle cx="47.60" cy="205.70" r="2.1"/><circle cx="51.00" cy="183.40" r="2.1"/><circle cx="51.00" cy="205.70" r="2.1"/><circle cx="54.40" cy="183.40" r="2.1"/><circle cx="54.40" cy="205.70" r="2.1"/><circle cx="57.80" cy="183.40" r="2.1"/><circle cx="57.80" cy="205.70" r="2.1"/><circle cx="61.20" cy="183.40" r="2.1"/><circle cx="61.20" cy="205.70" r="2.1"/><circle cx="64.60" cy="183.40" r="2.1"/><circle cx="64.60" cy="205.70" r="2.1"/><circle cx="68.00" cy="183.40" r="2.1"/><circle cx="68.00" cy="205.70" r="2.1"/><circle cx="71.40" cy="183.40" r="2.1"/><circle cx="71.40" cy="205.70" r="2.1"/><circle cx="74.80" cy="183.40" r="2.1"/><circle cx="74.80" cy="205.70" r="2.1"/><circle cx="78.20" cy="183.40" r="2.1"/><circle cx="78.20" cy="205.70" r="2.1"/><circle cx="81.60" cy="183.40" r="2.1"/><circle cx="81.60" cy="205.70" r="2.1"/><circle cx="85.00" cy="183.40" r="2.1"/><circle cx="85.00" cy="205.70" r="2.1"/><circle cx="88.40" cy="183.40" r="2.1"/><circle cx="88.40" cy="205.70" r="2.1"/><circle cx="91.80" cy="183.40" r="2.1"/><circle cx="91.80" cy="205.70" r="2.1"/><circle cx="95.20" cy="183.40" r="2.1"/><circle cx="95.20" cy="205.70" r="2.1"/><circle cx="98.60" cy="183.40" r="2.1"/><circle cx="98.60" cy="205.70" r="2.1"/><circle cx="102.00" cy="183.40" r="2.1"/><circle cx="102.00" cy="205.70" r="2.1"/><circle cx="105.40" cy="183.40" r="2.1"/><circle cx="105.40" cy="205.70" r="2.1"/><circle cx="108.80" cy="183.40" r="2.1"/><circle cx="108.80" cy="205.70" r="2.1"/><circle cx="112.20" cy="183.40" r="2.1"/><circle cx="112.20" cy="205.70" r="2.1"/><circle cx="115.60" cy="183.40" r="2.1"/><circle cx="115.60" cy="205.70" r="2.1"/><circle cx="119.00" cy="183.40" r="2.1"/><circle cx="119.00" cy="205.70" r="2.1"/><circle cx="122.40" cy="183.40" r="2.1"/><circle cx="122.40" cy="205.70" r="2.1"/><circle cx="125.80" cy="183.40" r="2.1"/><circle cx="125.80" cy="205.70" r="2.1"/><circle cx="129.20" cy="183.40" r="2.1"/><circle cx="129.20" cy="205.70" r="2.1"/><circle cx="132.60" cy="183.40" r="2.1"/><circle cx="132.60" cy="205.70" r="2.1"/><circle cx="136.00" cy="183.40" r="2.1"/><circle cx="136.00" cy="205.70" r="2.1"/></g>
<path d="M45.0 176 L45.0 206.5 C44.2 207.5 44.2 208.5 44.2 210 L44.2 222.5 C44.2 226.6 49.0 226.6 49.0 222.5 L49.0 210 C49.0 208.5 49.0 207.5 48.2 206.5 L48.2 176 Z" fill="#f5bd33"/>
<path d="M30.5 134.5 C34 130.5 43 130.2 53 130.6 C62 131 70 136 73.6 142.5 C75.2 146.5 72 150 66 150.6 L50 153 C43 157 36 161.5 31 160 C27.6 156 27.4 140 30.5 134.5 Z" fill="#cf58a9" stroke="#b8488f" stroke-width="0.4"/>
<path d="M40.2 153 C41.5 147.5 46 145.2 52 144.4 C58 143.8 62.2 146 63.2 151 C65.5 156.5 74 160.5 89.2 165.6 C83 169.2 76.5 171 70 172.2 C62 174 55 176.2 49.6 176.8 C44 175.5 40 172 40.2 168 Z" fill="#e63f2e"/>
<ellipse cx="41.8" cy="166.3" rx="7.5" ry="10.8" fill="#f6bd33"/>
<path d="M35.4 180.8 C37 178.6 40 178 44 177.4 L75.4 171.6 C73.8 177.5 71.6 184 69.8 188.4 C66 191.5 62 193.2 58.8 193 C52 191.4 47 189.4 44 187.6 C40 185.4 37 183 35.4 180.8 Z" fill="#27a040"/>
<g font-size="6" text-anchor="middle" fill="#3a1c28"><text x="42.4" y="143.6">FVIIa</text><text x="56" y="162.4">FXa</text><text x="42.2" y="170">TF</text><text x="56.6" y="185.4">EPCR</text></g>
<path d="M78.70 206.20 C78.70 212.10 85.50 212.10 85.50 206.20 M92.20 206.20 C92.20 212.10 98.90 212.10 98.90 206.20 M105.70 206.20 C105.70 212.10 112.40 212.10 112.40 206.20 M85.50 183.00 C85.50 176.90 92.20 176.90 92.20 183.00 M98.90 183.00 C98.90 176.90 105.70 176.90 105.70 183.00 M112.40 183.00 C112.40 176.90 119.10 176.90 119.10 183.00" stroke="#7d2535" stroke-width="1.0" fill="none"/>
<path d="M78.7 181.5 C79 177.5 75.5 176 76.2 174.2 C77 172.2 80 172.6 84 172.4 C87 172.2 89.5 171.6 91.6 171.4" stroke="#7d2535" stroke-width="0.9" fill="none"/>
<path d="M119.1 207.5 C119.3 211 119.8 214 117 215.6 C114 217 111 216 108.4 217.6" stroke="#7d2535" stroke-width="0.9" fill="none"/>
<rect x="76.75" y="181.00" width="3.90" height="27.20" rx="1.6" fill="#e2474a" stroke="#c83840" stroke-width="0.4"/>
<rect x="78.25" y="183.00" width="0.9" height="23.20" fill="#f07a78" opacity="0.7"/>
<rect x="83.55" y="181.00" width="3.90" height="27.20" rx="1.6" fill="#e2474a" stroke="#c83840" stroke-width="0.4"/>
<rect x="85.05" y="183.00" width="0.9" height="23.20" fill="#f07a78" opacity="0.7"/>
<rect x="90.25" y="181.00" width="3.90" height="27.20" rx="1.6" fill="#e2474a" stroke="#c83840" stroke-width="0.4"/>
<rect x="91.75" y="183.00" width="0.9" height="23.20" fill="#f07a78" opacity="0.7"/>
<rect x="96.95" y="181.00" width="3.90" height="27.20" rx="1.6" fill="#e2474a" stroke="#c83840" stroke-width="0.4"/>
<rect x="98.45" y="183.00" width="0.9" height="23.20" fill="#f07a78" opacity="0.7"/>
<rect x="103.75" y="181.00" width="3.90" height="27.20" rx="1.6" fill="#e2474a" stroke="#c83840" stroke-width="0.4"/>
<rect x="105.25" y="183.00" width="0.9" height="23.20" fill="#f07a78" opacity="0.7"/>
<rect x="110.45" y="181.00" width="3.90" height="27.20" rx="1.6" fill="#e2474a" stroke="#c83840" stroke-width="0.4"/>
<rect x="111.95" y="183.00" width="0.9" height="23.20" fill="#f07a78" opacity="0.7"/>
<rect x="117.15" y="181.00" width="3.90" height="27.20" rx="1.6" fill="#e2474a" stroke="#c83840" stroke-width="0.4"/>
<rect x="118.65" y="183.00" width="0.9" height="23.20" fill="#f07a78" opacity="0.7"/>
<rect x="85.40" y="188.40" width="25.20" height="12.40" fill="#f3b9c1"/>
<text x="98.60" y="197.60" font-size="6.2" text-anchor="middle" fill="#4a2a34">PAR2</text>
<circle cx="97.0" cy="150.6" r="2.7" fill="#fff" stroke="#4a4a4a" stroke-width="0.9"/>
<circle cx="86.7" cy="156.8" r="2.7" fill="#fff" stroke="#4a4a4a" stroke-width="0.9"/>
<path d="M95.4 152.8 L98.0 173.0 M88.9 157.4 L106.0 168.5" stroke="#4a4a4a" stroke-width="1.0" fill="none" stroke-linecap="round"/>
<rect x="26.80" y="304.40" width="112.70" height="22.20" fill="#f3f5f8"/>
<path d="M26.10 305.90 L26.60 314.90 M27.50 305.90 L27.00 314.90 M26.10 325.10 L26.60 316.10 M27.50 325.10 L27.00 316.10 M29.50 305.90 L30.00 314.90 M30.90 305.90 L30.40 314.90 M29.50 325.10 L30.00 316.10 M30.90 325.10 L30.40 316.10 M32.90 305.90 L33.40 314.90 M34.30 305.90 L33.80 314.90 M32.90 325.10 L33.40 316.10 M34.30 325.10 L33.80 316.10 M36.30 305.90 L36.80 314.90 M37.70 305.90 L37.20 314.90 M36.30 325.10 L36.80 316.10 M37.70 325.10 L37.20 316.10 M39.70 305.90 L40.20 314.90 M41.10 305.90 L40.60 314.90 M39.70 325.10 L40.20 316.10 M41.10 325.10 L40.60 316.10 M43.10 305.90 L43.60 314.90 M44.50 305.90 L44.00 314.90 M43.10 325.10 L43.60 316.10 M44.50 325.10 L44.00 316.10 M46.50 305.90 L47.00 314.90 M47.90 305.90 L47.40 314.90 M46.50 325.10 L47.00 316.10 M47.90 325.10 L47.40 316.10 M49.90 305.90 L50.40 314.90 M51.30 305.90 L50.80 314.90 M49.90 325.10 L50.40 316.10 M51.30 325.10 L50.80 316.10 M53.30 305.90 L53.80 314.90 M54.70 305.90 L54.20 314.90 M53.30 325.10 L53.80 316.10 M54.70 325.10 L54.20 316.10 M56.70 305.90 L57.20 314.90 M58.10 305.90 L57.60 314.90 M56.70 325.10 L57.20 316.10 M58.10 325.10 L57.60 316.10 M60.10 305.90 L60.60 314.90 M61.50 305.90 L61.00 314.90 M60.10 325.10 L60.60 316.10 M61.50 325.10 L61.00 316.10 M63.50 305.90 L64.00 314.90 M64.90 305.90 L64.40 314.90 M63.50 325.10 L64.00 316.10 M64.90 325.10 L64.40 316.10 M66.90 305.90 L67.40 314.90 M68.30 305.90 L67.80 314.90 M66.90 325.10 L67.40 316.10 M68.30 325.10 L67.80 316.10 M70.30 305.90 L70.80 314.90 M71.70 305.90 L71.20 314.90 M70.30 325.10 L70.80 316.10 M71.70 325.10 L71.20 316.10 M73.70 305.90 L74.20 314.90 M75.10 305.90 L74.60 314.90 M73.70 325.10 L74.20 316.10 M75.10 325.10 L74.60 316.10 M77.10 305.90 L77.60 314.90 M78.50 305.90 L78.00 314.90 M77.10 325.10 L77.60 316.10 M78.50 325.10 L78.00 316.10 M80.50 305.90 L81.00 314.90 M81.90 305.90 L81.40 314.90 M80.50 325.10 L81.00 316.10 M81.90 325.10 L81.40 316.10 M83.90 305.90 L84.40 314.90 M85.30 305.90 L84.80 314.90 M83.90 325.10 L84.40 316.10 M85.30 325.10 L84.80 316.10 M87.30 305.90 L87.80 314.90 M88.70 305.90 L88.20 314.90 M87.30 325.10 L87.80 316.10 M88.70 325.10 L88.20 316.10 M90.70 305.90 L91.20 314.90 M92.10 305.90 L91.60 314.90 M90.70 325.10 L91.20 316.10 M92.10 325.10 L91.60 316.10 M94.10 305.90 L94.60 314.90 M95.50 305.90 L95.00 314.90 M94.10 325.10 L94.60 316.10 M95.50 325.10 L95.00 316.10 M97.50 305.90 L98.00 314.90 M98.90 305.90 L98.40 314.90 M97.50 325.10 L98.00 316.10 M98.90 325.10 L98.40 316.10 M100.90 305.90 L101.40 314.90 M102.30 305.90 L101.80 314.90 M100.90 325.10 L101.40 316.10 M102.30 325.10 L101.80 316.10 M104.30 305.90 L104.80 314.90 M105.70 305.90 L105.20 314.90 M104.30 325.10 L104.80 316.10 M105.70 325.10 L105.20 316.10 M107.70 305.90 L108.20 314.90 M109.10 305.90 L108.60 314.90 M107.70 325.10 L108.20 316.10 M109.10 325.10 L108.60 316.10 M111.10 305.90 L111.60 314.90 M112.50 305.90 L112.00 314.90 M111.10 325.10 L111.60 316.10 M112.50 325.10 L112.00 316.10 M114.50 305.90 L115.00 314.90 M115.90 305.90 L115.40 314.90 M114.50 325.10 L115.00 316.10 M115.90 325.10 L115.40 316.10 M117.90 305.90 L118.40 314.90 M119.30 305.90 L118.80 314.90 M117.90 325.10 L118.40 316.10 M119.30 325.10 L118.80 316.10 M121.30 305.90 L121.80 314.90 M122.70 305.90 L122.20 314.90 M121.30 325.10 L121.80 316.10 M122.70 325.10 L122.20 316.10 M124.70 305.90 L125.20 314.90 M126.10 305.90 L125.60 314.90 M124.70 325.10 L125.20 316.10 M126.10 325.10 L125.60 316.10 M128.10 305.90 L128.60 314.90 M129.50 305.90 L129.00 314.90 M128.10 325.10 L128.60 316.10 M129.50 325.10 L129.00 316.10 M131.50 305.90 L132.00 314.90 M132.90 305.90 L132.40 314.90 M131.50 325.10 L132.00 316.10 M132.90 325.10 L132.40 316.10 M134.90 305.90 L135.40 314.90 M136.30 305.90 L135.80 314.90 M134.90 325.10 L135.40 316.10 M136.30 325.10 L135.80 316.10 M138.30 305.90 L138.80 314.90 M139.70 305.90 L139.20 314.90 M138.30 325.10 L138.80 316.10 M139.70 325.10 L139.20 316.10" stroke="#b3bccb" stroke-width="0.8" fill="none"/>
<g fill="#9aa7b9"><circle cx="26.80" cy="304.40" r="2.1"/><circle cx="26.80" cy="326.60" r="2.1"/><circle cx="30.20" cy="304.40" r="2.1"/><circle cx="30.20" cy="326.60" r="2.1"/><circle cx="33.60" cy="304.40" r="2.1"/><circle cx="33.60" cy="326.60" r="2.1"/><circle cx="37.00" cy="304.40" r="2.1"/><circle cx="37.00" cy="326.60" r="2.1"/><circle cx="40.40" cy="304.40" r="2.1"/><circle cx="40.40" cy="326.60" r="2.1"/><circle cx="43.80" cy="304.40" r="2.1"/><circle cx="43.80" cy="326.60" r="2.1"/><circle cx="47.20" cy="304.40" r="2.1"/><circle cx="47.20" cy="326.60" r="2.1"/><circle cx="50.60" cy="304.40" r="2.1"/><circle cx="50.60" cy="326.60" r="2.1"/><circle cx="54.00" cy="304.40" r="2.1"/><circle cx="54.00" cy="326.60" r="2.1"/><circle cx="57.40" cy="304.40" r="2.1"/><circle cx="57.40" cy="326.60" r="2.1"/><circle cx="60.80" cy="304.40" r="2.1"/><circle cx="60.80" cy="326.60" r="2.1"/><circle cx="64.20" cy="304.40" r="2.1"/><circle cx="64.20" cy="326.60" r="2.1"/><circle cx="67.60" cy="304.40" r="2.1"/><circle cx="67.60" cy="326.60" r="2.1"/><circle cx="71.00" cy="304.40" r="2.1"/><circle cx="71.00" cy="326.60" r="2.1"/><circle cx="74.40" cy="304.40" r="2.1"/><circle cx="74.40" cy="326.60" r="2.1"/><circle cx="77.80" cy="304.40" r="2.1"/><circle cx="77.80" cy="326.60" r="2.1"/><circle cx="81.20" cy="304.40" r="2.1"/><circle cx="81.20" cy="326.60" r="2.1"/><circle cx="84.60" cy="304.40" r="2.1"/><circle cx="84.60" cy="326.60" r="2.1"/><circle cx="88.00" cy="304.40" r="2.1"/><circle cx="88.00" cy="326.60" r="2.1"/><circle cx="91.40" cy="304.40" r="2.1"/><circle cx="91.40" cy="326.60" r="2.1"/><circle cx="94.80" cy="304.40" r="2.1"/><circle cx="94.80" cy="326.60" r="2.1"/><circle cx="98.20" cy="304.40" r="2.1"/><circle cx="98.20" cy="326.60" r="2.1"/><circle cx="101.60" cy="304.40" r="2.1"/><circle cx="101.60" cy="326.60" r="2.1"/><circle cx="105.00" cy="304.40" r="2.1"/><circle cx="105.00" cy="326.60" r="2.1"/><circle cx="108.40" cy="304.40" r="2.1"/><circle cx="108.40" cy="326.60" r="2.1"/><circle cx="111.80" cy="304.40" r="2.1"/><circle cx="111.80" cy="326.60" r="2.1"/><circle cx="115.20" cy="304.40" r="2.1"/><circle cx="115.20" cy="326.60" r="2.1"/><circle cx="118.60" cy="304.40" r="2.1"/><circle cx="118.60" cy="326.60" r="2.1"/><circle cx="122.00" cy="304.40" r="2.1"/><circle cx="122.00" cy="326.60" r="2.1"/><circle cx="125.40" cy="304.40" r="2.1"/><circle cx="125.40" cy="326.60" r="2.1"/><circle cx="128.80" cy="304.40" r="2.1"/><circle cx="128.80" cy="326.60" r="2.1"/><circle cx="132.20" cy="304.40" r="2.1"/><circle cx="132.20" cy="326.60" r="2.1"/><circle cx="135.60" cy="304.40" r="2.1"/><circle cx="135.60" cy="326.60" r="2.1"/><circle cx="139.00" cy="304.40" r="2.1"/><circle cx="139.00" cy="326.60" r="2.1"/></g>
<path d="M54.2 281.5 C52 287 53 294 56.8 299.5 C59 302.5 60 306 60 312 L60.4 341 C60.6 346.5 61.6 348.2 62.6 348.2 C63.6 348.2 64.6 346.5 64.8 341 L65.2 312 C65.3 304 66.6 298 66.7 290 C66.7 284 64.2 280 60.2 279.6 C57.2 279.6 55.2 280.2 54.2 281.5 Z" fill="#f6bf33"/>
<g fill="#1890ab"><path d="M50.6 264.4 C47.5 264.6 44 266.5 42.6 270 C41.4 273 41.8 276 42.2 279 C40.6 281.5 40.4 285 41.4 288 C40.4 291 40.4 295 41.2 298 C40.8 302 41 308 41.4 314 L41.6 327 L48.2 327 L48.2 314 C48.4 308 48.2 302 48 298 C49.6 296 49.4 292 48.6 290 C50.6 289 52.2 286 52.4 282 C53 278 52.8 272 52.4 268 C52.2 266 51.6 264.6 50.6 264.4 Z"/><circle cx="40.8" cy="283.5" r="1.3"/><circle cx="40.6" cy="292.5" r="1.3"/><circle cx="40.8" cy="300" r="1.1"/><circle cx="49.2" cy="294" r="1.1"/></g>
<path d="M43.2 325 V340 M46.2 325 V340" stroke="#1890ab" stroke-width="1.3" fill="none"/>
<g fill="#4fc0d8" opacity="0.75"><circle cx="45.8" cy="284.6" r="0.9"/><circle cx="49.8" cy="276" r="0.7"/><circle cx="44.6" cy="293" r="0.6"/></g>
<path d="M52.3 259.2 C53.4 256.4 55 254.8 57 254.6 C60 254 63 253.8 66.1 253.8 C71 254 76 254.8 81.5 256.2 C85.5 257.3 89.5 258.8 92.3 260.8 C95 262.6 97 264.4 97.7 266.2 C97.6 268 96.8 269.2 95.4 270 C92 271.6 88 272.8 84.6 273.8 C80 275.4 75 277 70.8 278.5 C67 279.8 64 281 61.5 281.5 C58 282 55.5 281.8 53.8 280.8 C52 278.5 51.5 276 51.5 273 L51.5 263.8 C51.6 261.8 51.9 260.2 52.3 259.2 Z" fill="#d4469c"/>
<g font-size="6" text-anchor="middle" fill="#3a1c28"><text x="67.4" y="265.4">FVIIa</text><text x="57.8" y="291.2">TF</text></g>
<text x="43.4" y="263.2" font-size="6" text-anchor="middle" fill="#444">Itg</text>
<path d="M80.10 328.20 C80.10 334.30 87.50 334.30 87.50 328.20 M94.20 328.20 C94.20 334.30 101.20 334.30 101.20 328.20 M108.40 328.20 C108.40 334.30 115.50 334.30 115.50 328.20 M87.50 305.00 C87.50 298.30 94.20 298.30 94.20 305.00 M101.20 305.00 C101.20 298.30 108.40 298.30 108.40 305.00 M115.50 305.00 C115.50 298.30 122.80 298.30 122.80 305.00" stroke="#7d2535" stroke-width="1.0" fill="none"/>
<path d="M80.1 303.5 C80.2 299.5 77.2 297.2 78 295 C79 293 81.5 293.2 85 292.8 C88 292.5 91 292.2 93.8 292.2" stroke="#7d2535" stroke-width="0.9" fill="none"/>
<path d="M122.8 329.5 C123.2 333 124.8 336.5 122.5 338.4 C119.5 340.4 114.5 338.8 111.6 340.4" stroke="#7d2535" stroke-width="0.9" fill="none"/>
<rect x="78.15" y="303.00" width="3.90" height="27.20" rx="1.6" fill="#e2474a" stroke="#c83840" stroke-width="0.4"/>
<rect x="79.65" y="305.00" width="0.9" height="23.20" fill="#f07a78" opacity="0.7"/>
<rect x="85.55" y="303.00" width="3.90" height="27.20" rx="1.6" fill="#e2474a" stroke="#c83840" stroke-width="0.4"/>
<rect x="87.05" y="305.00" width="0.9" height="23.20" fill="#f07a78" opacity="0.7"/>
<rect x="92.25" y="303.00" width="3.90" height="27.20" rx="1.6" fill="#e2474a" stroke="#c83840" stroke-width="0.4"/>
<rect x="93.75" y="305.00" width="0.9" height="23.20" fill="#f07a78" opacity="0.7"/>
<rect x="99.25" y="303.00" width="3.90" height="27.20" rx="1.6" fill="#e2474a" stroke="#c83840" stroke-width="0.4"/>
<rect x="100.75" y="305.00" width="0.9" height="23.20" fill="#f07a78" opacity="0.7"/>
<rect x="106.45" y="303.00" width="3.90" height="27.20" rx="1.6" fill="#e2474a" stroke="#c83840" stroke-width="0.4"/>
<rect x="107.95" y="305.00" width="0.9" height="23.20" fill="#f07a78" opacity="0.7"/>
<rect x="113.55" y="303.00" width="3.90" height="27.20" rx="1.6" fill="#e2474a" stroke="#c83840" stroke-width="0.4"/>
<rect x="115.05" y="305.00" width="0.9" height="23.20" fill="#f07a78" opacity="0.7"/>
<rect x="120.85" y="303.00" width="3.90" height="27.20" rx="1.6" fill="#e2474a" stroke="#c83840" stroke-width="0.4"/>
<rect x="122.35" y="305.00" width="0.9" height="23.20" fill="#f07a78" opacity="0.7"/>
<rect x="84.80" y="309.80" width="29.00" height="13.60" fill="#f3b9c1"/>
<text x="99.60" y="319.20" font-size="6.2" text-anchor="middle" fill="#4a2a34">PAR2</text>
<circle cx="101.8" cy="273.4" r="2.7" fill="#fff" stroke="#4a4a4a" stroke-width="0.9"/>
<circle cx="90.3" cy="279.4" r="2.7" fill="#fff" stroke="#4a4a4a" stroke-width="0.9"/>
<path d="M100.0 275.6 L101.8 295.0 M92.5 280.0 L111.0 290.6" stroke="#4a4a4a" stroke-width="1.0" fill="none" stroke-linecap="round"/>
<path d="M327 38 C326 30 331 24.5 338 24.2 C344 24 348.5 25 351.2 28 C352.8 30 353.6 33 353 36 C352.4 39 350 41.5 347 42.5 C344 45.5 338 47.8 332 47.6 C328 47.2 325.5 44 327 38 Z" fill="#e7e7e9" stroke="#d2d2d6" stroke-width="0.4"/>
<path d="M326.3 42 C327 46 331 47.9 336 47.9 C341 47.9 345 46 346.6 42.4 C340 40.8 332 40.6 326.3 42 Z" fill="#ffffff" stroke="#d0d0d4" stroke-width="0.35"/>
<ellipse cx="341.8" cy="33.4" rx="3.1" ry="3.2" fill="#f19f9c"/>
<ellipse cx="349.8" cy="33.9" rx="2.4" ry="2.0" fill="#ffffff" stroke="#c8c8cc" stroke-width="0.4" transform="rotate(-40 349.8 33.9)"/>
<circle cx="349.8" cy="33.9" r="0.95" fill="#6a6a70"/>
<path d="M350.5 27 C351.5 25.6 353 26.2 353 28 L352.6 31 Z" fill="#efefef" stroke="#cfcfd4" stroke-width="0.3"/>
<path d="M345.8 37.6 L347.4 40.4 M347.2 37.2 L348.8 39.8" stroke="#aeb6c6" stroke-width="0.6"/>
<path d="M344.5 42.5 L357.9 90.0 M354.5 41.8 L386 69.6" stroke="#eaa9b1" stroke-width="0.45" fill="none"/>
<path d="M369.4 64.6 C365 66 361.4 69.6 360 74 C358.4 79 357.6 84 358.2 89.2 L359 89.8 L371.8 89.6 L372 70 C372 67 371 64.6 369.4 64.6 Z" fill="#f6ccd5" stroke="#e2b0bb" stroke-width="0.45"/>
<path d="M376.3 64.6 C380 65.6 384 69 386 73 C387.8 77 388.4 84 387.8 90 L376 89.8 L376.6 82 C375.4 80 375 78 375.2 75 L375.2 68 C375.2 66 375.6 64.6 376.3 64.6 Z" fill="#f6ccd5" stroke="#e2b0bb" stroke-width="0.45"/>
<rect x="372.6" y="63.8" width="2.6" height="11.6" rx="0.8" fill="#a6b7ca"/>
<path d="M364 80 L367 83 M381 80 L379 84 M365 74 L368 76" stroke="#e6b0ba" stroke-width="0.4" fill="none"/>
<path d="M344.3 50.6 C346 48.6 348 47.4 352.62 46.56 L352.77 46.71 352.91 46.86 353.04 47.02 353.16 47.20 353.27 47.37 353.37 47.56 353.46 47.75 353.54 47.95 353.61 48.15 353.66 48.36 353.71 48.57 353.74 48.79 353.76 49.01 353.77 49.23 353.77 49.45 353.76 49.67 353.73 49.89 353.70 50.11 353.66 50.32 353.60 50.54 353.54 50.75 353.46 50.96 353.38 51.16 353.29 51.36 353.19 51.55 353.09 51.73 352.98 51.91 352.86 52.08 352.73 52.24 352.61 52.39 352.47 52.53 352.34 52.67 352.20 52.79 352.06 52.90 351.91 53.00 351.77 53.10 351.63 53.17 351.48 53.24 351.34 53.30 351.20 53.34 351.07 53.38 350.93 53.40 350.80 53.41 350.68 53.41 350.56 53.39 350.45 53.37 350.34 53.33 350.24 53.29 350.15 53.23 350.07 53.17 350.00 53.09 349.93 53.00 349.88 52.91 349.83 52.81 349.80 52.70 349.77 52.58 349.76 52.46 349.76 52.33 349.77 52.19 349.79 52.05 349.82 51.91 349.86 51.77 349.92 51.62 349.98 51.47 350.06 51.32 350.15 51.16 350.25 51.01 350.36 50.86 350.48 50.71 350.61 50.57 350.75 50.43 350.90 50.29 351.05 50.16 351.22 50.03 351.39 49.91 351.57 49.79 351.76 49.68 351.96 49.58 352.16 49.49 352.36 49.41 352.57 49.33 352.78 49.27 353.00 49.22 353.21 49.17 353.43 49.14 353.65 49.12 353.87 49.11 354.09 49.11 354.31 49.12 354.52 49.14 354.73 49.18 354.94 49.23 355.15 49.29 355.35 49.36 355.54 49.44 355.73 49.53 355.91 49.64 356.09 49.75 356.25 49.88 356.41 50.01 356.56 50.16 356.70 50.31 356.83 50.48 356.95 50.65 357.06 50.83 357.16 51.01 357.25 51.21 357.33 51.40 357.40 51.61 357.45 51.82 357.49 52.03 357.53 52.24 357.55 52.46 357.56 52.68 357.56 52.90 357.54 53.12 357.52 53.34 357.49 53.56 357.44 53.78 357.39 53.99 357.32 54.20 357.25 54.41 357.17 54.61 357.08 54.81 356.98 55.00 356.88 55.18 356.76 55.36 356.65 55.53 356.52 55.69 356.39 55.84 356.26 55.99 356.12 56.12 355.98 56.24 355.84 56.36 355.70 56.46 355.56 56.55 355.41 56.63 355.27 56.70 355.13 56.75 354.99 56.80 354.85 56.83 354.72 56.85 354.59 56.86 354.47 56.86 354.35 56.85 354.24 56.82 354.13 56.79 354.03 56.74 353.94 56.68 353.86 56.62 353.78 56.54 353.72 56.46 353.66 56.36 353.62 56.26 353.58 56.15 353.56 56.03 353.55 55.91 353.55 55.78 353.55 55.65 353.57 55.51 353.61 55.36 353.65 55.22 353.70 55.07 353.77 54.92 353.85 54.77 353.94 54.62 354.03 54.47 354.14 54.32 354.26 54.17 354.39 54.02 354.53 53.88 354.68 53.74 354.84 53.61 355.01 53.48 355.18 53.36 355.36 53.24 355.55 53.14 355.74 53.03 355.94 52.94 356.15 52.86 356.36 52.79 356.57 52.72 356.78 52.67 357.00 52.62 357.22 52.59 357.44 52.57 357.66 52.56 357.88 52.56 358.09 52.57 358.31 52.60 358.52 52.63 358.73 52.68 358.93 52.74 359.13 52.81 359.33 52.89 359.52 52.99 359.70 53.09 359.87 53.21 360.04 53.33 360.20 53.47 360.35 53.61 360.49 53.77 360.62 53.93 360.74 54.10 360.85 54.28 360.95 54.47 361.04 54.66 361.12 54.86 361.18 55.06 361.24 55.27 361.28 55.48 361.31 55.70 361.34 55.91 361.35 56.13 361.34 56.35 361.33 56.57 361.31 56.79 361.27 57.01 361.23 57.23 361.18 57.44 361.11 57.66 361.04 57.86 360.96 58.07 360.87 58.26 360.77 58.45 360.66 58.64 360.55 58.82 360.43 58.98 360.31 59.15 360.18 59.30 360.05 59.44 359.91 59.57 359.77 59.70 359.63 59.81 359.49 59.91 359.34 60.00 359.20 60.08 359.06 60.15 358.92 60.21 358.78 60.25 358.64 60.28 358.51 60.30 358.38 60.31 358.25 60.31 358.13 60.30 358.02 60.28 357.92 60.24 357.82 60.19 357.73 60.14 357.64 60.07 357.57 59.99 357.51 59.91 357.45 59.82 357.41 59.71 357.37 59.60 357.35 59.49 357.33 59.36 357.33 59.23 357.34 59.10 357.36 58.96 357.39 58.82 357.44 58.67 357.49 58.52 357.56 58.37 357.63 58.22 357.72 58.07 357.82 57.92 357.93 57.77 358.05 57.62 358.18 57.47 358.32 57.33 358.47 57.19 358.63 57.06 358.79 56.93 358.97 56.81 359.15 56.70 359.34 56.59 359.53 56.49 359.73 56.40 359.93 56.31 360.14 56.24 360.35 56.18 360.57 56.12 360.79 56.08 361.01 56.04 361.23 56.02 361.44 56.01 361.66 56.01 361.88 56.03 362.10 56.05 362.31 56.09 362.52 56.13 362.72 56.19 362.92 56.26 363.12 56.35 363.30 56.44 363.49 56.54 363.66 56.66 363.83 56.78 363.98 56.92 364.13 57.07 364.27 57.22 364.41 57.38 364.53 57.55 364.64 57.73 364.74 57.92 364.82 58.11 364.90 58.31 364.97 58.51 365.02 58.72 365.07 58.93 365.10 59.15 365.12 59.37 365.13 59.59 365.13 59.81 365.12 60.03 365.10 60.25 365.06 60.47 365.02 60.68 364.96 60.90 364.90 61.11 364.83 61.32 364.74 61.52 364.65 61.72 364.56 61.91 364.45 62.09 364.34 62.27 364.22 62.44 364.10 62.60 363.97 62.75 363.83 62.89 363.70 63.03 363.56 63.15 363.42 63.26 363.27 63.36 363.13 63.45 362.99 63.53 362.84 63.60 362.70 63.66 362.56 63.70 362.43 63.74 362.29 63.76 362.16 63.77 362.04 63.77 361.92 63.75 361.81 63.73 361.70 63.69 361.60 63.65 361.51 63.59 361.43 63.52 361.36 63.45 361.29 63.36 361.24 63.27 361.19 63.17 361.16 63.06 361.13 62.94 361.12 62.82 361.12 62.69 361.13 62.55 361.15 62.41 361.18 62.27 361.22 62.12 361.28 61.98 361.34 61.83 361.42 61.67 361.51 61.52 361.61 61.37 361.72 61.22 361.84 61.07 361.97 60.93 362.11 60.79 362.26 60.65 362.41 60.51 362.58 60.39 362.75 60.26 362.94 60.15 363.12 60.04 363.32 59.94 363.52 59.85 363.72 59.77 363.93 59.69 364.14 59.63 364.36 59.57 364.57 59.53 364.79 59.50 365.01 59.48 365.23 59.47 365.45 59.47 365.67 59.48 365.88 59.50 366.10 59.54 366.30 59.59 366.51 59.65 366.71 59.72 366.90 59.80 367.09 59.89 367.27 60.00 367.45 60.11 367.61 60.24 367.77 60.37 L369 61.2" stroke="#222" stroke-width="0.8" fill="none" stroke-linejoin="round"/>
<path d="M356.6 48.6 L356.6 41.6" stroke="#111" stroke-width="1.0"/>
<path d="M354.4 42.2 L356.6 38.3 L358.8 42.2 Z" fill="#111"/>
<line x1="389.4" y1="70" x2="482.6" y2="70" stroke="#1a1a1a" stroke-width="1.5"/>
<line x1="404.1" y1="48.6" x2="404.1" y2="56" stroke="#111" stroke-width="1.0"/>
<path d="M401.00 54.2 L407.20 54.2 L404.10 62.2 Z" fill="#111"/>
<line x1="404.1" y1="63.2" x2="404.1" y2="66" stroke="#111" stroke-width="1.1"/>
<line x1="404.1" y1="68.2" x2="404.1" y2="71.8" stroke="#111" stroke-width="1.4"/>
<line x1="404.1" y1="74" x2="404.1" y2="77.4" stroke="#111" stroke-width="1.1"/>
<line x1="431.9" y1="48.6" x2="431.9" y2="56" stroke="#111" stroke-width="1.0"/>
<path d="M428.80 54.2 L435.00 54.2 L431.90 62.2 Z" fill="#111"/>
<line x1="431.9" y1="63.2" x2="431.9" y2="66" stroke="#111" stroke-width="1.1"/>
<line x1="431.9" y1="68.2" x2="431.9" y2="71.8" stroke="#111" stroke-width="1.4"/>
<line x1="431.9" y1="74" x2="431.9" y2="77.4" stroke="#111" stroke-width="1.1"/>
<line x1="460.0" y1="48.6" x2="460.0" y2="56" stroke="#111" stroke-width="1.0"/>
<path d="M456.90 54.2 L463.10 54.2 L460.00 62.2 Z" fill="#111"/>
<line x1="460.0" y1="63.2" x2="460.0" y2="66" stroke="#111" stroke-width="1.1"/>
<line x1="460.0" y1="68.2" x2="460.0" y2="71.8" stroke="#111" stroke-width="1.4"/>
<line x1="460.0" y1="74" x2="460.0" y2="77.4" stroke="#111" stroke-width="1.1"/>
<g font-size="6.6" fill="#2b2b2b"><text x="363" y="30.9" font-size="7.0" textLength="99.3" lengthAdjust="spacingAndGlyphs">Poly(I:C) Intranasal administration</text><text x="382.3" y="45.2">Day</text><text x="404.1" y="45.2" text-anchor="middle">1</text><text x="432.0" y="45.2" text-anchor="middle">2</text><text x="460.1" y="45.2" text-anchor="middle">3</text><text x="484" y="71.8" textLength="29" lengthAdjust="spacingAndGlyphs">Sampling</text><text x="490.5" y="79.8" textLength="16.5" lengthAdjust="spacingAndGlyphs">Day 4</text></g>
<rect x="0.5" y="0.5" width="519" height="477" fill="none" stroke="#474747" stroke-width="1.2"/>
</svg>
</body></html>
